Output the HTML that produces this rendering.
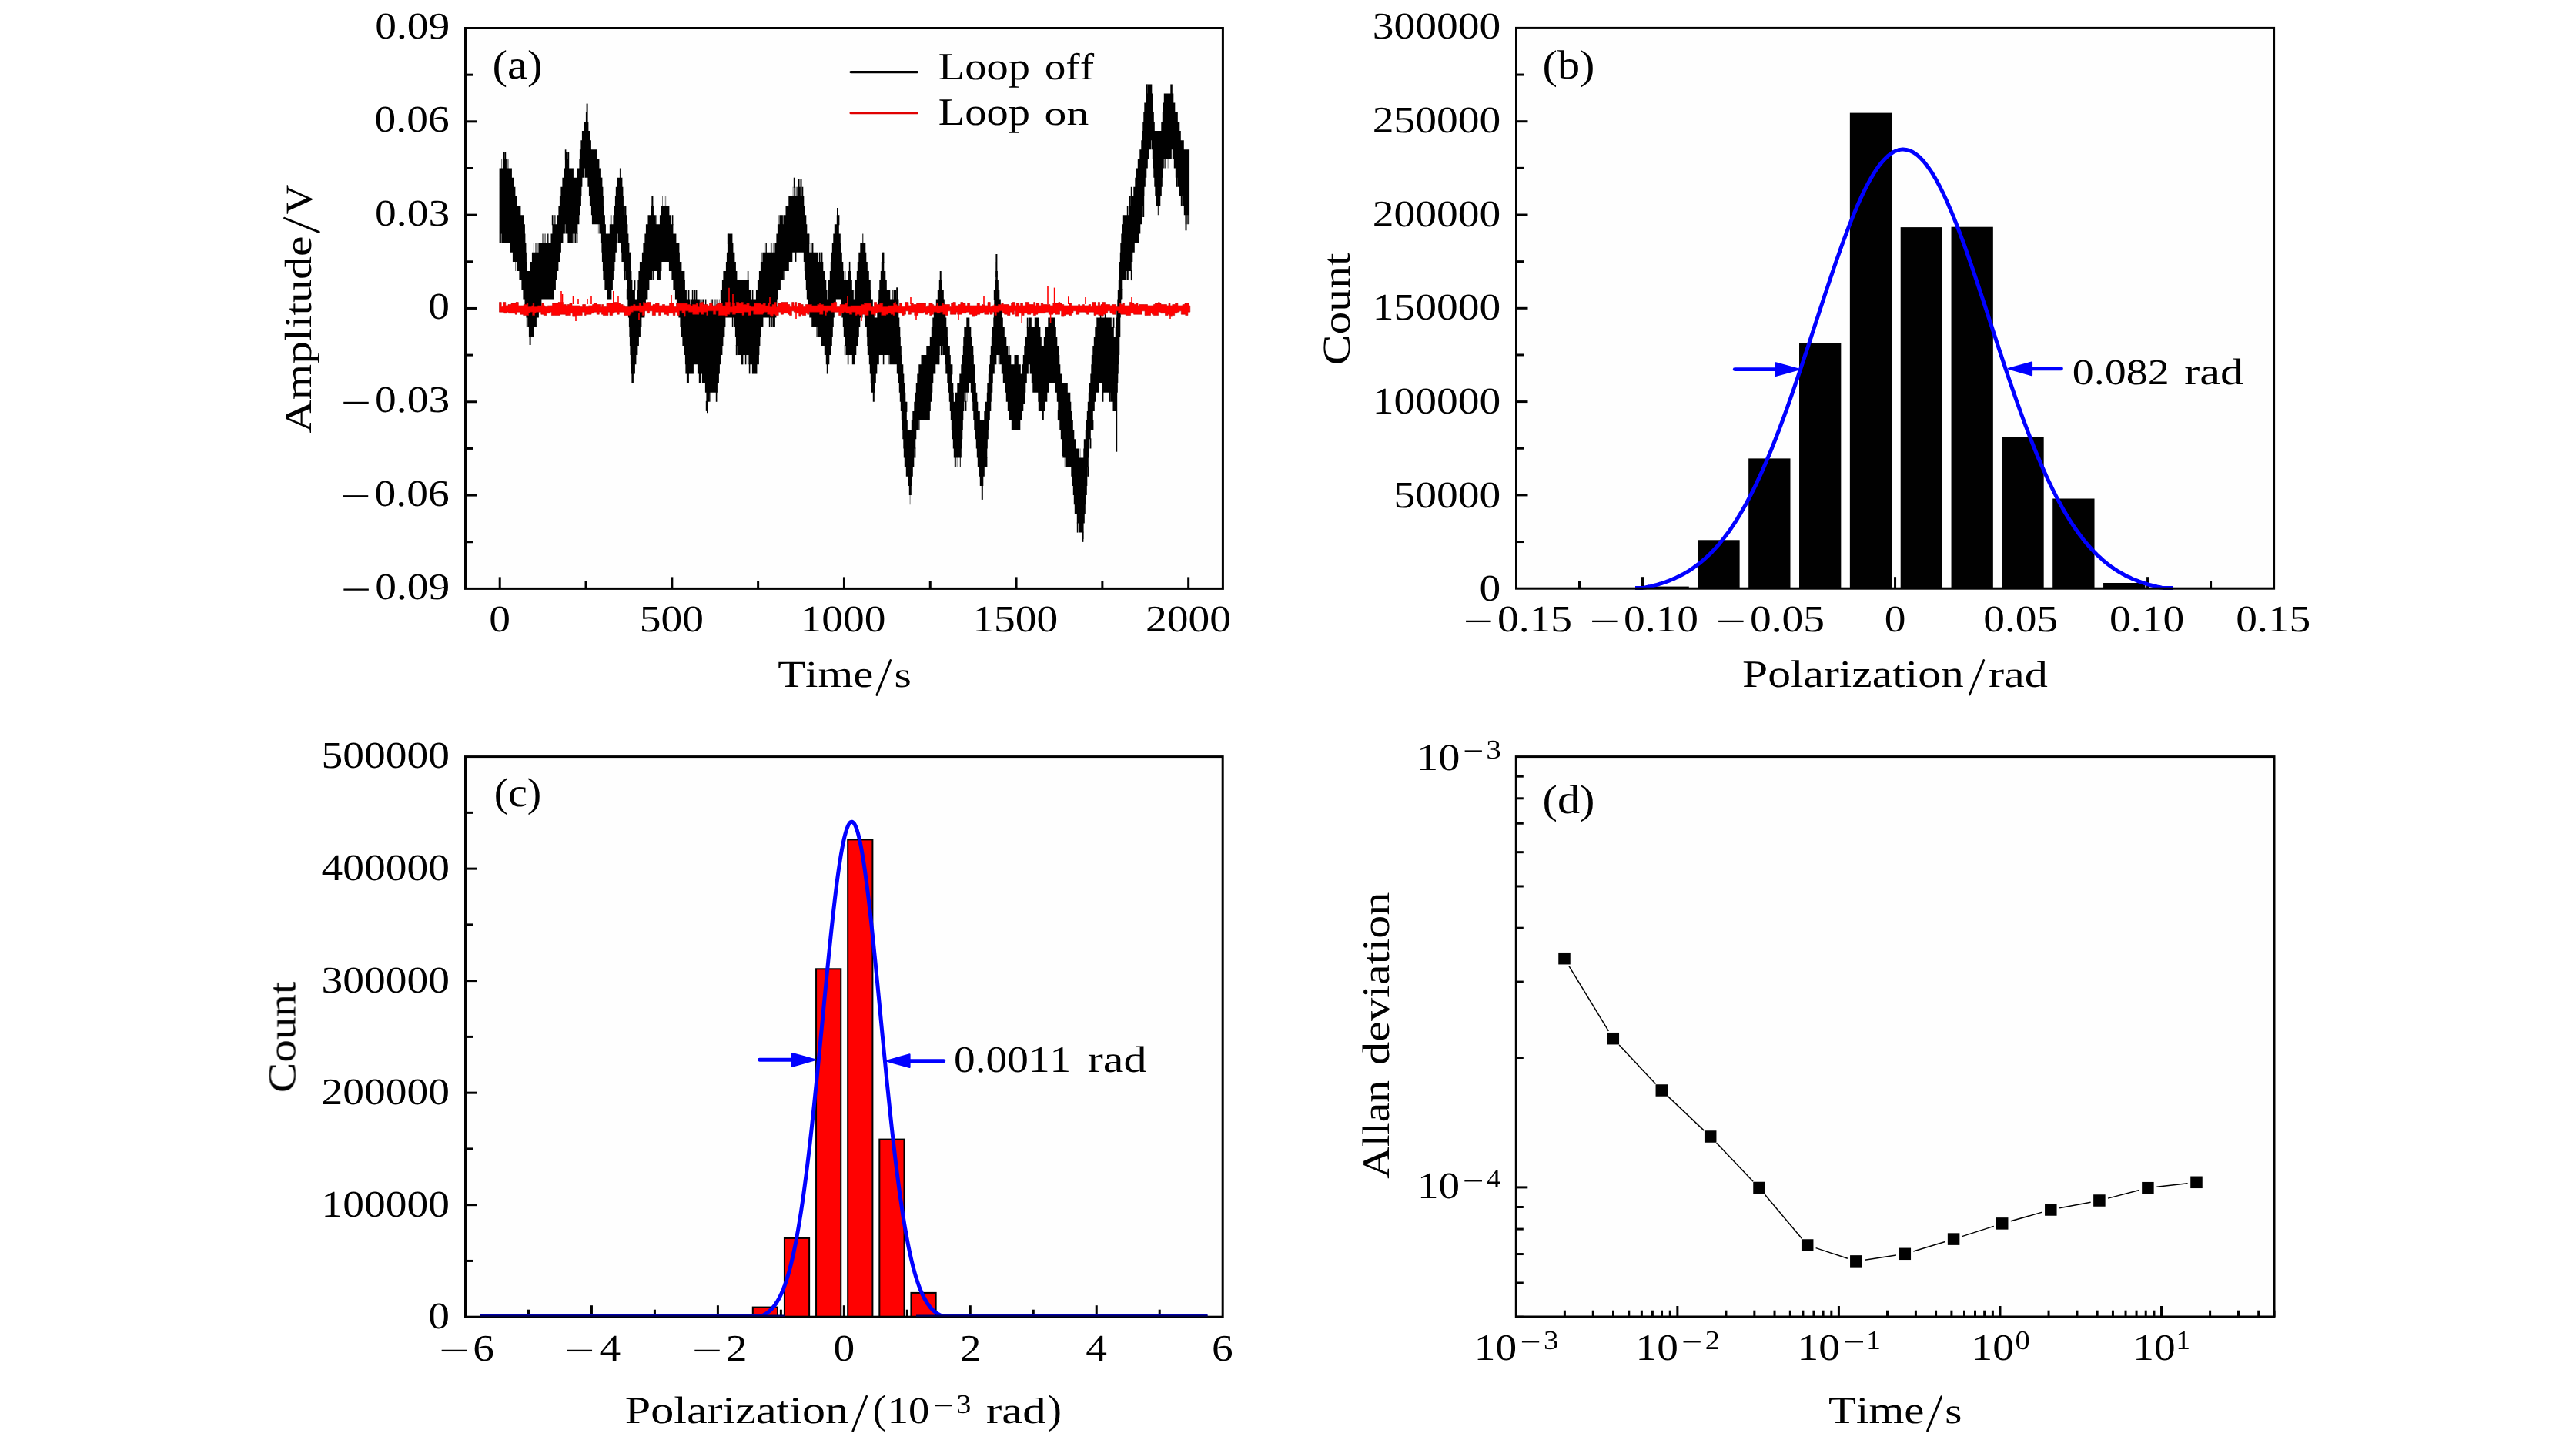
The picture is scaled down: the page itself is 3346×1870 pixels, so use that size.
<!DOCTYPE html>
<html><head><meta charset="utf-8"><style>
html,body{margin:0;padding:0;background:#fff;}
svg{display:block;}
text{text-rendering:geometricPrecision;}
text{font-family:"Liberation Serif",serif;font-kerning:none;}
</style></head><body>
<svg width="3346" height="1870" viewBox="0 0 3346 1870">
<rect width="3346" height="1870" fill="#fff"/>
<g opacity="0.999"><rect x="604.50" y="36.50" width="983.90" height="727.90" fill="#fefefe" stroke="none"/>
<rect x="1969.50" y="36.40" width="984.10" height="727.80" fill="#fefefe" stroke="none"/>
<rect x="604.50" y="982.60" width="983.70" height="727.60" fill="#fefefe" stroke="none"/>
<rect x="1969.30" y="982.60" width="984.70" height="727.40" fill="#fefefe" stroke="none"/>
<line x1="604.50" y1="643.08" x2="619.50" y2="643.08" stroke="#000" stroke-width="3" stroke-linecap="butt"/>
<line x1="604.50" y1="521.77" x2="619.50" y2="521.77" stroke="#000" stroke-width="3" stroke-linecap="butt"/>
<line x1="604.50" y1="400.45" x2="619.50" y2="400.45" stroke="#000" stroke-width="3" stroke-linecap="butt"/>
<line x1="604.50" y1="279.13" x2="619.50" y2="279.13" stroke="#000" stroke-width="3" stroke-linecap="butt"/>
<line x1="604.50" y1="157.82" x2="619.50" y2="157.82" stroke="#000" stroke-width="3" stroke-linecap="butt"/>
<line x1="604.50" y1="703.74" x2="614.00" y2="703.74" stroke="#000" stroke-width="3" stroke-linecap="butt"/>
<line x1="604.50" y1="582.43" x2="614.00" y2="582.43" stroke="#000" stroke-width="3" stroke-linecap="butt"/>
<line x1="604.50" y1="461.11" x2="614.00" y2="461.11" stroke="#000" stroke-width="3" stroke-linecap="butt"/>
<line x1="604.50" y1="339.79" x2="614.00" y2="339.79" stroke="#000" stroke-width="3" stroke-linecap="butt"/>
<line x1="604.50" y1="218.47" x2="614.00" y2="218.47" stroke="#000" stroke-width="3" stroke-linecap="butt"/>
<line x1="604.50" y1="97.16" x2="614.00" y2="97.16" stroke="#000" stroke-width="3" stroke-linecap="butt"/>
<line x1="649.22" y1="764.40" x2="649.22" y2="749.40" stroke="#000" stroke-width="3" stroke-linecap="butt"/>
<line x1="872.84" y1="764.40" x2="872.84" y2="749.40" stroke="#000" stroke-width="3" stroke-linecap="butt"/>
<line x1="1096.45" y1="764.40" x2="1096.45" y2="749.40" stroke="#000" stroke-width="3" stroke-linecap="butt"/>
<line x1="1320.06" y1="764.40" x2="1320.06" y2="749.40" stroke="#000" stroke-width="3" stroke-linecap="butt"/>
<line x1="1543.68" y1="764.40" x2="1543.68" y2="749.40" stroke="#000" stroke-width="3" stroke-linecap="butt"/>
<line x1="761.03" y1="764.40" x2="761.03" y2="754.90" stroke="#000" stroke-width="3" stroke-linecap="butt"/>
<line x1="984.64" y1="764.40" x2="984.64" y2="754.90" stroke="#000" stroke-width="3" stroke-linecap="butt"/>
<line x1="1208.26" y1="764.40" x2="1208.26" y2="754.90" stroke="#000" stroke-width="3" stroke-linecap="butt"/>
<line x1="1431.87" y1="764.40" x2="1431.87" y2="754.90" stroke="#000" stroke-width="3" stroke-linecap="butt"/>
<text transform="translate(487.15,50.12) scale(1.1350,1)" font-size="48.90">0.09</text>
<text transform="translate(486.53,171.44) scale(1.1350,1)" font-size="48.90">0.06</text>
<text transform="translate(487.04,292.75) scale(1.1350,1)" font-size="48.90">0.03</text>
<text transform="translate(556.36,414.07) scale(1.1350,1)" font-size="48.90">0</text>
<text transform="translate(487.04,535.29) scale(1.1350,1)" font-size="48.90">0.03</text>
<rect x="446.25" y="521.82" width="32.50" height="2.30" fill="#000" />
<text transform="translate(486.53,656.60) scale(1.1350,1)" font-size="48.90">0.06</text>
<rect x="445.74" y="643.13" width="32.50" height="2.30" fill="#000" />
<text transform="translate(487.15,777.92) scale(1.1350,1)" font-size="48.90">0.09</text>
<rect x="446.36" y="764.45" width="32.50" height="2.30" fill="#000" />
<text transform="translate(635.35,819.52) scale(1.1350,1)" font-size="48.90">0</text>
<text transform="translate(830.65,819.52) scale(1.1350,1)" font-size="48.90">500</text>
<text transform="translate(1039.57,819.52) scale(1.1350,1)" font-size="48.90">1000</text>
<text transform="translate(1263.18,819.52) scale(1.1350,1)" font-size="48.90">1500</text>
<text transform="translate(1488.01,819.52) scale(1.1350,1)" font-size="48.90">2000</text>
<text transform="translate(1010.14,891.70) scale(1.1972,1)" font-size="49.20" fill="#000">Time</text>
<line x1="1156.80" y1="857.50" x2="1138.80" y2="902.50" stroke="#000" stroke-width="2.8" stroke-linecap="round"/>
<text transform="translate(1161.45,892.15) scale(1.2429,1)" font-size="46.16" fill="#000">s</text>
<text transform="translate(404.20,562.48) rotate(-90) scale(1.2118,1)" font-size="49.40">Amplitude</text>
<text transform="translate(404.60,278.20) rotate(-90) scale(1.0849,1)" font-size="49.40">V</text>
<line x1="369.50" y1="283.30" x2="414.40" y2="301.40" stroke="#000" stroke-width="2.8" stroke-linecap="round"/>
<text transform="translate(639.42,101.64) scale(1.0999,1)" font-size="53.38" fill="#000">(a)</text>
<line x1="1105.00" y1="93.60" x2="1191.40" y2="93.60" stroke="#000" stroke-width="3.1" stroke-linecap="round"/>
<line x1="1105.00" y1="146.70" x2="1191.40" y2="146.70" stroke="#e00000" stroke-width="3.1" stroke-linecap="round"/>
<text transform="translate(1218.77,103.10) scale(1.1287,1)" font-size="50.00" fill="#000">Loop</text>
<text transform="translate(1356.70,103.13) scale(1.1345,1)" font-size="48.61" fill="#000">off</text>
<text transform="translate(1218.77,161.80) scale(1.1287,1)" font-size="50.00" fill="#000">Loop</text>
<text transform="translate(1356.61,161.87) scale(1.3184,1)" font-size="43.66" fill="#000">on</text>
<polygon points="648.6,218.5 651.4,218.5 651.4,206.4 651.9,206.4 651.9,218.5 652.9,218.5 652.9,206.4 656.4,206.4 656.4,218.5 656.9,218.5 656.9,206.4 657.9,206.4 657.9,218.5 658.4,218.5 658.4,206.4 659.4,206.4 659.4,218.5 659.9,218.5 659.9,206.4 660.4,206.4 660.4,218.5 664.9,218.5 664.9,230.7 667.4,230.7 667.4,242.8 669.4,242.8 669.4,254.9 671.9,254.9 671.9,267.1 676.4,267.1 676.4,279.2 680.9,279.2 680.9,291.3 681.9,291.3 681.9,303.5 682.4,303.5 682.4,315.6 683.4,315.6 683.4,327.7 683.9,327.7 683.9,339.9 684.4,339.9 684.4,352.0 688.4,352.0 688.4,339.9 690.9,339.9 690.9,327.7 692.9,327.7 692.9,315.6 693.9,315.6 693.9,327.7 695.4,327.7 695.4,315.6 695.9,315.6 695.9,327.7 696.4,327.7 696.4,315.6 696.9,315.6 696.9,327.7 697.4,327.7 697.4,315.6 698.4,315.6 698.4,327.7 699.4,327.7 699.4,315.6 704.4,315.6 704.4,303.5 704.9,303.5 704.9,315.6 705.4,315.6 705.4,303.5 705.9,303.5 705.9,315.6 706.9,315.6 706.9,303.5 707.4,303.5 707.4,315.6 708.4,315.6 708.4,303.5 708.9,303.5 708.9,315.6 710.9,315.6 710.9,303.5 711.9,303.5 711.9,315.6 712.4,315.6 712.4,303.5 712.9,303.5 712.9,315.6 714.9,315.6 714.9,303.5 715.4,303.5 715.4,315.6 715.9,315.6 715.9,303.5 717.4,303.5 717.4,291.3 720.4,291.3 720.4,279.2 720.9,279.2 720.9,291.3 721.4,291.3 721.4,279.2 721.9,279.2 721.9,291.3 723.4,291.3 723.4,279.2 725.4,279.2 725.4,267.1 726.9,267.1 726.9,254.9 728.4,254.9 728.4,242.8 730.4,242.8 730.4,230.7 732.4,230.7 732.4,218.5 733.9,218.5 733.9,206.4 738.4,206.4 738.4,218.5 744.9,218.5 744.9,230.7 745.4,230.7 745.4,218.5 745.9,218.5 745.9,230.7 749.9,230.7 749.9,218.5 752.4,218.5 752.4,206.4 752.9,206.4 752.9,194.3 754.4,194.3 754.4,182.2 755.9,182.2 755.9,170.0 758.9,170.0 758.9,157.9 760.9,157.9 760.9,145.8 762.9,145.8 762.9,157.9 764.4,157.9 764.4,170.0 766.4,170.0 766.4,182.2 767.9,182.2 767.9,194.3 775.4,194.3 775.4,206.4 778.4,206.4 778.4,218.5 779.9,218.5 779.9,230.7 781.4,230.7 781.4,242.8 782.4,242.8 782.4,254.9 783.9,254.9 783.9,267.1 784.9,267.1 784.9,279.2 785.9,279.2 785.9,291.3 786.9,291.3 786.9,303.5 793.4,303.5 793.4,291.3 796.4,291.3 796.4,279.2 797.9,279.2 797.9,267.1 798.9,267.1 798.9,254.9 800.9,254.9 800.9,242.8 801.9,242.8 801.9,230.7 804.9,230.7 804.9,218.5 805.9,218.5 805.9,230.7 808.4,230.7 808.4,242.8 809.4,242.8 809.4,254.9 809.9,254.9 809.9,267.1 811.9,267.1 811.9,279.2 814.4,279.2 814.4,291.3 815.4,291.3 815.4,303.5 816.4,303.5 816.4,315.6 817.4,315.6 817.4,327.7 818.4,327.7 818.4,339.9 819.4,339.9 819.4,352.0 820.4,352.0 820.4,364.1 821.4,364.1 821.4,376.2 824.9,376.2 824.9,388.4 827.4,388.4 827.4,376.2 828.4,376.2 828.4,364.1 829.4,364.1 829.4,352.0 830.9,352.0 830.9,339.9 833.9,339.9 833.9,327.7 835.4,327.7 835.4,315.6 837.4,315.6 837.4,303.5 838.9,303.5 838.9,291.3 840.9,291.3 840.9,279.2 841.4,279.2 841.4,291.3 841.9,291.3 841.9,279.2 845.4,279.2 845.4,267.1 846.9,267.1 846.9,254.9 847.4,254.9 847.4,267.1 848.9,267.1 848.9,279.2 849.4,279.2 849.4,267.1 849.9,267.1 849.9,279.2 851.9,279.2 851.9,291.3 852.4,291.3 852.4,279.2 852.9,279.2 852.9,291.3 856.9,291.3 856.9,279.2 858.9,279.2 858.9,267.1 860.4,267.1 860.4,254.9 860.9,254.9 860.9,267.1 863.9,267.1 863.9,254.9 864.4,254.9 864.4,267.1 865.9,267.1 865.9,254.9 866.4,254.9 866.4,267.1 869.4,267.1 869.4,279.2 871.9,279.2 871.9,291.3 874.4,291.3 874.4,303.5 878.4,303.5 878.4,315.6 880.4,315.6 880.4,327.7 882.9,327.7 882.9,339.9 885.4,339.9 885.4,352.0 888.4,352.0 888.4,364.1 889.9,364.1 889.9,376.2 891.9,376.2 891.9,388.4 896.4,388.4 896.4,400.5 896.9,400.5 896.9,388.4 908.9,388.4 908.9,400.5 909.4,400.5 909.4,388.4 910.9,388.4 910.9,400.5 911.4,400.5 911.4,388.4 911.9,388.4 911.9,400.5 912.4,400.5 912.4,388.4 914.9,388.4 914.9,400.5 915.9,400.5 915.9,388.4 917.4,388.4 917.4,400.5 922.9,400.5 922.9,388.4 923.4,388.4 923.4,400.5 924.4,400.5 924.4,388.4 925.9,388.4 925.9,400.5 926.9,400.5 926.9,388.4 928.4,388.4 928.4,400.5 928.9,400.5 928.9,388.4 929.4,388.4 929.4,400.5 929.9,400.5 929.9,388.4 930.4,388.4 930.4,400.5 931.4,400.5 931.4,388.4 931.9,388.4 931.9,400.5 933.9,400.5 933.9,388.4 934.4,388.4 934.4,400.5 935.9,400.5 935.9,388.4 936.9,388.4 936.9,376.2 937.9,376.2 937.9,364.1 939.4,364.1 939.4,352.0 942.9,352.0 942.9,339.9 943.9,339.9 943.9,327.7 944.9,327.7 944.9,315.6 945.9,315.6 945.9,303.5 951.4,303.5 951.4,315.6 952.4,315.6 952.4,327.7 954.4,327.7 954.4,339.9 955.9,339.9 955.9,352.0 957.4,352.0 957.4,364.1 972.9,364.1 972.9,376.2 975.4,376.2 975.4,388.4 981.9,388.4 981.9,376.2 983.9,376.2 983.9,364.1 985.9,364.1 985.9,352.0 987.9,352.0 987.9,339.9 989.4,339.9 989.4,327.7 989.9,327.7 989.9,339.9 990.4,339.9 990.4,327.7 993.9,327.7 993.9,315.6 994.4,315.6 994.4,327.7 994.9,327.7 994.9,315.6 995.9,315.6 995.9,327.7 1000.9,327.7 1000.9,315.6 1001.4,315.6 1001.4,327.7 1002.4,327.7 1002.4,315.6 1002.9,315.6 1002.9,327.7 1003.9,327.7 1003.9,315.6 1004.4,315.6 1004.4,327.7 1006.4,327.7 1006.4,315.6 1008.4,315.6 1008.4,303.5 1009.9,303.5 1009.9,291.3 1010.9,291.3 1010.9,279.2 1011.4,279.2 1011.4,291.3 1012.4,291.3 1012.4,279.2 1014.4,279.2 1014.4,291.3 1014.9,291.3 1014.9,279.2 1016.9,279.2 1016.9,291.3 1017.4,291.3 1017.4,279.2 1019.9,279.2 1019.9,267.1 1020.4,267.1 1020.4,279.2 1020.9,279.2 1020.9,267.1 1024.3,267.1 1024.3,254.9 1029.8,254.9 1029.8,242.8 1030.3,242.8 1030.3,254.9 1031.3,254.9 1031.3,242.8 1032.3,242.8 1032.3,254.9 1032.8,254.9 1032.8,242.8 1033.3,242.8 1033.3,254.9 1034.3,254.9 1034.3,242.8 1034.8,242.8 1034.8,254.9 1035.3,254.9 1035.3,242.8 1037.3,242.8 1037.3,254.9 1037.8,254.9 1037.8,242.8 1039.8,242.8 1039.8,254.9 1040.3,254.9 1040.3,242.8 1041.3,242.8 1041.3,254.9 1041.8,254.9 1041.8,242.8 1043.3,242.8 1043.3,254.9 1044.3,254.9 1044.3,267.1 1045.8,267.1 1045.8,279.2 1047.3,279.2 1047.3,291.3 1048.3,291.3 1048.3,303.5 1050.3,303.5 1050.3,315.6 1051.3,315.6 1051.3,327.7 1062.8,327.7 1062.8,339.9 1069.3,339.9 1069.3,352.0 1071.3,352.0 1071.3,364.1 1073.3,364.1 1073.3,376.2 1074.3,376.2 1074.3,388.4 1074.8,388.4 1074.8,376.2 1075.8,376.2 1075.8,364.1 1077.8,364.1 1077.8,352.0 1078.8,352.0 1078.8,339.9 1079.8,339.9 1079.8,327.7 1080.8,327.7 1080.8,315.6 1082.3,315.6 1082.3,303.5 1083.8,303.5 1083.8,291.3 1086.8,291.3 1086.8,279.2 1087.8,279.2 1087.8,291.3 1089.8,291.3 1089.8,303.5 1091.8,303.5 1091.8,315.6 1092.8,315.6 1092.8,327.7 1093.8,327.7 1093.8,339.9 1095.3,339.9 1095.3,352.0 1096.3,352.0 1096.3,364.1 1097.8,364.1 1097.8,352.0 1098.3,352.0 1098.3,364.1 1101.3,364.1 1101.3,352.0 1105.8,352.0 1105.8,364.1 1106.8,364.1 1106.8,376.2 1108.8,376.2 1108.8,388.4 1109.8,388.4 1109.8,376.2 1110.8,376.2 1110.8,364.1 1112.8,364.1 1112.8,352.0 1113.8,352.0 1113.8,339.9 1115.3,339.9 1115.3,327.7 1117.3,327.7 1117.3,315.6 1120.3,315.6 1120.3,303.5 1121.3,303.5 1121.3,315.6 1124.3,315.6 1124.3,327.7 1125.3,327.7 1125.3,339.9 1126.8,339.9 1126.8,352.0 1128.8,352.0 1128.8,364.1 1130.8,364.1 1130.8,376.2 1131.8,376.2 1131.8,388.4 1133.8,388.4 1133.8,400.5 1135.8,400.5 1135.8,412.6 1139.3,412.6 1139.3,400.5 1140.3,400.5 1140.3,388.4 1141.3,388.4 1141.3,376.2 1142.3,376.2 1142.3,364.1 1143.8,364.1 1143.8,352.0 1144.8,352.0 1144.8,339.9 1145.8,339.9 1145.8,327.7 1147.3,327.7 1147.3,339.9 1148.3,339.9 1148.3,352.0 1150.3,352.0 1150.3,364.1 1151.8,364.1 1151.8,376.2 1156.3,376.2 1156.3,388.4 1159.3,388.4 1159.3,376.2 1160.3,376.2 1160.3,388.4 1160.8,388.4 1160.8,376.2 1164.3,376.2 1164.3,388.4 1165.8,388.4 1165.8,400.5 1167.3,400.5 1167.3,412.6 1168.3,412.6 1168.3,424.8 1169.3,424.8 1169.3,436.9 1169.8,436.9 1169.8,449.0 1170.8,449.0 1170.8,461.1 1171.8,461.1 1171.8,473.3 1173.3,473.3 1173.3,485.4 1174.3,485.4 1174.3,497.5 1175.3,497.5 1175.3,509.7 1176.3,509.7 1176.3,521.8 1177.3,521.8 1177.3,533.9 1177.8,533.9 1177.8,546.1 1178.8,546.1 1178.8,558.2 1183.8,558.2 1183.8,546.1 1185.3,546.1 1185.3,533.9 1187.3,533.9 1187.3,521.8 1188.8,521.8 1188.8,509.7 1189.8,509.7 1189.8,497.5 1191.3,497.5 1191.3,485.4 1193.3,485.4 1193.3,473.3 1196.3,473.3 1196.3,461.1 1196.8,461.1 1196.8,473.3 1197.8,473.3 1197.8,461.1 1203.3,461.1 1203.3,449.0 1207.8,449.0 1207.8,436.9 1209.8,436.9 1209.8,424.8 1211.3,424.8 1211.3,412.6 1212.8,412.6 1212.8,400.5 1215.8,400.5 1215.8,388.4 1217.8,388.4 1217.8,376.2 1219.8,376.2 1219.8,364.1 1223.8,364.1 1223.8,376.2 1225.8,376.2 1225.8,388.4 1226.8,388.4 1226.8,400.5 1228.3,400.5 1228.3,412.6 1229.3,412.6 1229.3,424.8 1230.8,424.8 1230.8,436.9 1231.8,436.9 1231.8,449.0 1233.8,449.0 1233.8,461.1 1234.8,461.1 1234.8,473.3 1236.3,473.3 1236.3,485.4 1236.8,485.4 1236.8,497.5 1238.3,497.5 1238.3,509.7 1238.8,509.7 1238.8,521.8 1240.8,521.8 1240.8,509.7 1243.3,509.7 1243.3,497.5 1246.3,497.5 1246.3,485.4 1248.3,485.4 1248.3,473.3 1249.3,473.3 1249.3,461.1 1250.8,461.1 1250.8,449.0 1251.3,449.0 1251.3,436.9 1252.3,436.9 1252.3,424.8 1255.3,424.8 1255.3,412.6 1258.3,412.6 1258.3,424.8 1258.8,424.8 1258.8,412.6 1259.3,412.6 1259.3,424.8 1261.3,424.8 1261.3,436.9 1262.3,436.9 1262.3,449.0 1264.3,449.0 1264.3,461.1 1264.8,461.1 1264.8,473.3 1266.3,473.3 1266.3,485.4 1266.8,485.4 1266.8,497.5 1267.8,497.5 1267.8,509.7 1269.3,509.7 1269.3,521.8 1270.3,521.8 1270.3,533.9 1272.8,533.9 1272.8,546.1 1275.3,546.1 1275.3,558.2 1275.8,558.2 1275.8,546.1 1278.3,546.1 1278.3,533.9 1279.3,533.9 1279.3,521.8 1281.8,521.8 1281.8,509.7 1282.3,509.7 1282.3,497.5 1283.8,497.5 1283.8,485.4 1284.8,485.4 1284.8,473.3 1285.8,473.3 1285.8,461.1 1286.8,461.1 1286.8,449.0 1287.8,449.0 1287.8,436.9 1288.8,436.9 1288.8,424.8 1290.3,424.8 1290.3,412.6 1290.8,412.6 1290.8,400.5 1291.3,400.5 1291.3,388.4 1292.3,388.4 1292.3,376.2 1292.8,376.2 1292.8,364.1 1293.3,364.1 1293.3,352.0 1293.8,352.0 1293.8,339.9 1294.8,339.9 1294.8,352.0 1295.8,352.0 1295.8,364.1 1296.8,364.1 1296.8,376.2 1298.3,376.2 1298.3,388.4 1299.8,388.4 1299.8,400.5 1301.8,400.5 1301.8,412.6 1302.8,412.6 1302.8,424.8 1304.8,424.8 1304.8,436.9 1307.3,436.9 1307.3,449.0 1309.3,449.0 1309.3,461.1 1313.3,461.1 1313.3,473.3 1317.3,473.3 1317.3,461.1 1317.8,461.1 1317.8,473.3 1318.3,473.3 1318.3,461.1 1322.8,461.1 1322.8,473.3 1325.8,473.3 1325.8,485.4 1327.3,485.4 1327.3,473.3 1328.8,473.3 1328.8,461.1 1330.3,461.1 1330.3,449.0 1331.8,449.0 1331.8,436.9 1333.8,436.9 1333.8,424.8 1335.8,424.8 1335.8,412.6 1339.8,412.6 1339.8,424.8 1343.8,424.8 1343.8,412.6 1349.3,412.6 1349.3,424.8 1350.3,424.8 1350.3,436.9 1352.8,436.9 1352.8,449.0 1355.8,449.0 1355.8,436.9 1357.3,436.9 1357.3,424.8 1361.3,424.8 1361.3,412.6 1370.3,412.6 1370.3,424.8 1371.8,424.8 1371.8,436.9 1373.3,436.9 1373.3,449.0 1375.3,449.0 1375.3,461.1 1376.3,461.1 1376.3,473.3 1377.3,473.3 1377.3,485.4 1379.3,485.4 1379.3,497.5 1386.8,497.5 1386.8,509.7 1390.3,509.7 1390.3,521.8 1391.3,521.8 1391.3,533.9 1392.8,533.9 1392.8,546.1 1393.8,546.1 1393.8,558.2 1395.3,558.2 1395.3,570.3 1397.3,570.3 1397.3,582.5 1401.8,582.5 1401.8,594.6 1402.8,594.6 1402.8,582.5 1403.3,582.5 1403.3,594.6 1407.3,594.6 1407.3,582.5 1407.8,582.5 1407.8,570.3 1409.8,570.3 1409.8,558.2 1410.8,558.2 1410.8,546.1 1411.8,546.1 1411.8,533.9 1412.8,533.9 1412.8,521.8 1413.8,521.8 1413.8,509.7 1414.8,509.7 1414.8,497.5 1416.3,497.5 1416.3,485.4 1417.3,485.4 1417.3,473.3 1417.8,473.3 1417.8,461.1 1419.3,461.1 1419.3,449.0 1420.8,449.0 1420.8,436.9 1422.3,436.9 1422.3,424.8 1424.3,424.8 1424.3,412.6 1443.8,412.6 1443.8,424.8 1444.3,424.8 1444.3,412.6 1444.8,412.6 1444.8,424.8 1446.8,424.8 1446.8,436.9 1448.8,436.9 1448.8,424.8 1449.3,424.8 1449.3,412.6 1450.3,412.6 1450.3,400.5 1451.3,400.5 1451.3,388.4 1451.8,388.4 1451.8,376.2 1452.8,376.2 1452.8,364.1 1453.3,364.1 1453.3,352.0 1453.8,352.0 1453.8,339.9 1454.8,339.9 1454.8,327.7 1455.3,327.7 1455.3,315.6 1456.3,315.6 1456.3,303.5 1457.3,303.5 1457.3,291.3 1458.8,291.3 1458.8,279.2 1466.8,279.2 1466.8,267.1 1468.3,267.1 1468.3,254.9 1472.3,254.9 1472.3,242.8 1474.3,242.8 1474.3,230.7 1475.8,230.7 1475.8,218.5 1477.8,218.5 1477.8,206.4 1480.3,206.4 1480.3,194.3 1482.3,194.3 1482.3,182.2 1483.3,182.2 1483.3,170.0 1484.3,170.0 1484.3,157.9 1485.3,157.9 1485.3,145.8 1486.3,145.8 1486.3,133.6 1488.3,133.6 1488.3,121.5 1490.3,121.5 1490.3,109.4 1496.3,109.4 1496.3,121.5 1497.3,121.5 1497.3,133.6 1497.8,133.6 1497.8,145.8 1498.8,145.8 1498.8,157.9 1499.8,157.9 1499.8,170.0 1508.3,170.0 1508.3,157.9 1509.8,157.9 1509.8,145.8 1510.8,145.8 1510.8,133.6 1511.8,133.6 1511.8,121.5 1520.3,121.5 1520.3,109.4 1522.8,109.4 1522.8,121.5 1524.3,121.5 1524.3,133.6 1526.3,133.6 1526.3,145.8 1529.8,145.8 1529.8,157.9 1532.3,157.9 1532.3,170.0 1533.8,170.0 1533.8,182.2 1536.3,182.2 1536.3,194.3 1536.8,194.3 1536.8,182.2 1537.8,182.2 1537.8,194.3 1545.1,194.3 1545.1,291.3 1544.8,291.3 1544.8,279.2 1543.8,279.2 1543.8,291.3 1542.3,291.3 1542.3,279.2 1541.8,279.2 1541.8,291.3 1541.3,291.3 1541.3,279.2 1540.8,279.2 1540.8,291.3 1539.8,291.3 1539.8,279.2 1537.8,279.2 1537.8,267.1 1535.3,267.1 1535.3,254.9 1531.3,254.9 1531.3,242.8 1529.3,242.8 1529.3,230.7 1526.8,230.7 1526.8,218.5 1524.8,218.5 1524.8,206.4 1522.8,206.4 1522.8,194.3 1521.8,194.3 1521.8,206.4 1517.3,206.4 1517.3,218.5 1516.8,218.5 1516.8,206.4 1514.3,206.4 1514.3,218.5 1513.3,218.5 1513.3,206.4 1512.8,206.4 1512.8,218.5 1512.3,218.5 1512.3,206.4 1511.8,206.4 1511.8,218.5 1510.8,218.5 1510.8,230.7 1509.8,230.7 1509.8,242.8 1508.8,242.8 1508.8,254.9 1507.3,254.9 1507.3,267.1 1504.8,267.1 1504.8,279.2 1503.8,279.2 1503.8,267.1 1501.8,267.1 1501.8,254.9 1500.3,254.9 1500.3,242.8 1499.3,242.8 1499.3,230.7 1498.3,230.7 1498.3,218.5 1497.3,218.5 1497.3,206.4 1496.8,206.4 1496.8,194.3 1495.8,194.3 1495.8,182.2 1495.3,182.2 1495.3,194.3 1492.3,194.3 1492.3,206.4 1490.8,206.4 1490.8,218.5 1489.3,218.5 1489.3,230.7 1487.8,230.7 1487.8,242.8 1486.3,242.8 1486.3,254.9 1485.3,254.9 1485.3,267.1 1483.8,267.1 1483.8,279.2 1483.3,279.2 1483.3,291.3 1481.3,291.3 1481.3,303.5 1479.3,303.5 1479.3,315.6 1473.8,315.6 1473.8,327.7 1471.3,327.7 1471.3,339.9 1469.8,339.9 1469.8,352.0 1465.8,352.0 1465.8,364.1 1463.8,364.1 1463.8,352.0 1463.3,352.0 1463.3,364.1 1458.3,364.1 1458.3,376.2 1457.3,376.2 1457.3,388.4 1456.3,388.4 1456.3,400.5 1455.8,400.5 1455.8,412.6 1455.3,412.6 1455.3,436.9 1454.3,436.9 1454.3,461.1 1453.8,461.1 1453.8,473.3 1452.8,473.3 1452.8,485.4 1452.3,485.4 1452.3,497.5 1451.8,497.5 1451.8,509.7 1450.3,509.7 1450.3,521.8 1449.3,521.8 1449.3,533.9 1445.8,533.9 1445.8,521.8 1445.3,521.8 1445.3,533.9 1444.3,533.9 1444.3,521.8 1442.3,521.8 1442.3,509.7 1431.8,509.7 1431.8,497.5 1427.3,497.5 1427.3,509.7 1423.3,509.7 1423.3,521.8 1421.8,521.8 1421.8,533.9 1419.8,533.9 1419.8,546.1 1418.8,546.1 1418.8,558.2 1416.8,558.2 1416.8,570.3 1415.3,570.3 1415.3,582.5 1414.8,582.5 1414.8,594.6 1413.8,594.6 1413.8,606.7 1412.8,606.7 1412.8,618.8 1412.3,618.8 1412.3,631.0 1411.8,631.0 1411.8,643.1 1410.8,643.1 1410.8,655.2 1409.8,655.2 1409.8,667.4 1408.8,667.4 1408.8,679.5 1407.3,679.5 1407.3,691.6 1406.3,691.6 1406.3,703.8 1405.3,703.8 1405.3,691.6 1401.3,691.6 1401.3,679.5 1398.8,679.5 1398.8,667.4 1395.8,667.4 1395.8,655.2 1394.8,655.2 1394.8,643.1 1393.8,643.1 1393.8,631.0 1392.3,631.0 1392.3,618.8 1391.3,618.8 1391.3,606.7 1388.8,606.7 1388.8,618.8 1388.3,618.8 1388.3,606.7 1383.8,606.7 1383.8,594.6 1383.3,594.6 1383.3,606.7 1382.8,606.7 1382.8,594.6 1380.3,594.6 1380.3,582.5 1379.3,582.5 1379.3,570.3 1377.8,570.3 1377.8,558.2 1376.3,558.2 1376.3,546.1 1375.3,546.1 1375.3,533.9 1374.3,533.9 1374.3,521.8 1372.8,521.8 1372.8,509.7 1370.3,509.7 1370.3,497.5 1362.8,497.5 1362.8,509.7 1360.3,509.7 1360.3,521.8 1357.8,521.8 1357.8,533.9 1355.8,533.9 1355.8,546.1 1353.8,546.1 1353.8,533.9 1349.8,533.9 1349.8,521.8 1348.3,521.8 1348.3,509.7 1341.3,509.7 1341.3,497.5 1339.8,497.5 1339.8,485.4 1337.8,485.4 1337.8,473.3 1335.8,473.3 1335.8,485.4 1333.8,485.4 1333.8,497.5 1332.3,497.5 1332.3,509.7 1330.8,509.7 1330.8,521.8 1329.3,521.8 1329.3,533.9 1327.8,533.9 1327.8,546.1 1325.3,546.1 1325.3,558.2 1313.8,558.2 1313.8,546.1 1310.8,546.1 1310.8,533.9 1308.8,533.9 1308.8,521.8 1306.8,521.8 1306.8,509.7 1305.3,509.7 1305.3,497.5 1302.8,497.5 1302.8,485.4 1300.8,485.4 1300.8,473.3 1298.3,473.3 1298.3,461.1 1297.3,461.1 1297.3,473.3 1296.8,473.3 1296.8,461.1 1293.3,461.1 1293.3,473.3 1291.8,473.3 1291.8,485.4 1289.8,485.4 1289.8,497.5 1289.3,497.5 1289.3,509.7 1287.8,509.7 1287.8,521.8 1287.3,521.8 1287.3,533.9 1285.8,533.9 1285.8,546.1 1284.8,546.1 1284.8,558.2 1283.8,558.2 1283.8,570.3 1282.8,570.3 1282.8,582.5 1282.3,582.5 1282.3,594.6 1281.3,594.6 1281.3,606.7 1278.8,606.7 1278.8,618.8 1277.3,618.8 1277.3,631.0 1275.8,631.0 1275.8,643.1 1275.3,643.1 1275.3,631.0 1272.8,631.0 1272.8,618.8 1271.3,618.8 1271.3,606.7 1269.8,606.7 1269.8,594.6 1268.8,594.6 1268.8,582.5 1267.8,582.5 1267.8,570.3 1266.8,570.3 1266.8,558.2 1265.3,558.2 1265.3,546.1 1264.3,546.1 1264.3,533.9 1263.3,533.9 1263.3,521.8 1262.3,521.8 1262.3,509.7 1260.8,509.7 1260.8,497.5 1258.3,497.5 1258.3,509.7 1256.3,509.7 1256.3,521.8 1255.8,521.8 1255.8,509.7 1254.8,509.7 1254.8,521.8 1254.3,521.8 1254.3,509.7 1253.8,509.7 1253.8,521.8 1253.3,521.8 1253.3,509.7 1252.8,509.7 1252.8,521.8 1252.3,521.8 1252.3,533.9 1251.3,533.9 1251.3,546.1 1250.8,546.1 1250.8,558.2 1250.3,558.2 1250.3,570.3 1249.3,570.3 1249.3,582.5 1248.8,582.5 1248.8,594.6 1247.8,594.6 1247.8,606.7 1246.8,606.7 1246.8,594.6 1243.3,594.6 1243.3,606.7 1242.8,606.7 1242.8,594.6 1241.8,594.6 1241.8,606.7 1240.8,606.7 1240.8,594.6 1240.3,594.6 1240.3,606.7 1239.8,606.7 1239.8,594.6 1238.8,594.6 1238.8,582.5 1237.8,582.5 1237.8,570.3 1236.8,570.3 1236.8,558.2 1235.8,558.2 1235.8,546.1 1234.8,546.1 1234.8,533.9 1233.8,533.9 1233.8,521.8 1232.8,521.8 1232.8,509.7 1231.3,509.7 1231.3,497.5 1230.3,497.5 1230.3,485.4 1228.3,485.4 1228.3,473.3 1227.3,473.3 1227.3,461.1 1224.3,461.1 1224.3,449.0 1220.8,449.0 1220.8,461.1 1218.3,461.1 1218.3,473.3 1215.3,473.3 1215.3,485.4 1212.3,485.4 1212.3,497.5 1211.3,497.5 1211.3,509.7 1210.3,509.7 1210.3,521.8 1208.8,521.8 1208.8,533.9 1207.8,533.9 1207.8,546.1 1194.8,546.1 1194.8,558.2 1194.3,558.2 1194.3,546.1 1193.8,546.1 1193.8,558.2 1190.3,558.2 1190.3,570.3 1189.3,570.3 1189.3,582.5 1187.8,582.5 1187.8,594.6 1187.3,594.6 1187.3,606.7 1185.8,606.7 1185.8,618.8 1184.3,618.8 1184.3,631.0 1183.8,631.0 1183.8,643.1 1182.3,643.1 1182.3,655.2 1181.8,655.2 1181.8,643.1 1180.8,643.1 1180.8,631.0 1179.3,631.0 1179.3,618.8 1176.8,618.8 1176.8,606.7 1174.8,606.7 1174.8,594.6 1173.8,594.6 1173.8,582.5 1173.3,582.5 1173.3,570.3 1172.3,570.3 1172.3,558.2 1171.3,558.2 1171.3,546.1 1170.8,546.1 1170.8,533.9 1169.8,533.9 1169.8,521.8 1168.8,521.8 1168.8,509.7 1167.8,509.7 1167.8,497.5 1166.8,497.5 1166.8,485.4 1164.8,485.4 1164.8,473.3 1155.3,473.3 1155.3,461.1 1154.8,461.1 1154.8,473.3 1154.3,473.3 1154.3,461.1 1141.8,461.1 1141.8,473.3 1139.3,473.3 1139.3,485.4 1137.8,485.4 1137.8,497.5 1136.8,497.5 1136.8,509.7 1135.8,509.7 1135.8,521.8 1133.8,521.8 1133.8,509.7 1131.8,509.7 1131.8,497.5 1130.8,497.5 1130.8,485.4 1129.8,485.4 1129.8,473.3 1128.8,473.3 1128.8,461.1 1127.8,461.1 1127.8,449.0 1126.3,449.0 1126.3,436.9 1125.8,436.9 1125.8,424.8 1123.8,424.8 1123.8,412.6 1122.8,412.6 1122.8,400.5 1120.8,400.5 1120.8,412.6 1120.3,412.6 1120.3,400.5 1119.8,400.5 1119.8,412.6 1119.3,412.6 1119.3,400.5 1118.8,400.5 1118.8,412.6 1117.3,412.6 1117.3,424.8 1115.8,424.8 1115.8,436.9 1114.3,436.9 1114.3,449.0 1112.3,449.0 1112.3,461.1 1110.3,461.1 1110.3,473.3 1106.8,473.3 1106.8,461.1 1098.8,461.1 1098.8,449.0 1097.3,449.0 1097.3,436.9 1095.8,436.9 1095.8,424.8 1094.8,424.8 1094.8,412.6 1093.3,412.6 1093.3,400.5 1092.3,400.5 1092.3,388.4 1085.8,388.4 1085.8,400.5 1083.8,400.5 1083.8,412.6 1082.8,412.6 1082.8,424.8 1081.8,424.8 1081.8,436.9 1080.8,436.9 1080.8,449.0 1079.3,449.0 1079.3,461.1 1077.3,461.1 1077.3,473.3 1075.8,473.3 1075.8,485.4 1073.8,485.4 1073.8,473.3 1072.8,473.3 1072.8,461.1 1070.8,461.1 1070.8,449.0 1066.8,449.0 1066.8,436.9 1061.3,436.9 1061.3,424.8 1060.8,424.8 1060.8,436.9 1060.3,436.9 1060.3,424.8 1055.8,424.8 1055.8,412.6 1055.3,412.6 1055.3,424.8 1054.3,424.8 1054.3,412.6 1051.3,412.6 1051.3,400.5 1049.8,400.5 1049.8,388.4 1047.8,388.4 1047.8,376.2 1046.8,376.2 1046.8,364.1 1045.8,364.1 1045.8,352.0 1044.8,352.0 1044.8,339.9 1043.8,339.9 1043.8,327.7 1029.3,327.7 1029.3,339.9 1024.8,339.9 1024.8,352.0 1019.4,352.0 1019.4,364.1 1018.4,364.1 1018.4,352.0 1017.9,352.0 1017.9,364.1 1013.9,364.1 1013.9,376.2 1010.4,376.2 1010.4,388.4 1009.4,388.4 1009.4,400.5 1008.4,400.5 1008.4,412.6 1006.9,412.6 1006.9,424.8 1003.4,424.8 1003.4,412.6 1002.9,412.6 1002.9,424.8 1001.9,424.8 1001.9,412.6 991.4,412.6 991.4,424.8 988.4,424.8 988.4,436.9 987.4,436.9 987.4,449.0 986.4,449.0 986.4,461.1 985.9,461.1 985.9,473.3 983.4,473.3 983.4,485.4 976.9,485.4 976.9,473.3 972.4,473.3 972.4,461.1 971.9,461.1 971.9,473.3 970.9,473.3 970.9,461.1 957.4,461.1 957.4,449.0 955.9,449.0 955.9,436.9 954.9,436.9 954.9,424.8 953.4,424.8 953.4,412.6 942.4,412.6 942.4,424.8 941.4,424.8 941.4,436.9 939.4,436.9 939.4,449.0 938.4,449.0 938.4,461.1 936.4,461.1 936.4,473.3 934.9,473.3 934.9,485.4 933.9,485.4 933.9,497.5 931.9,497.5 931.9,509.7 922.9,509.7 922.9,521.8 922.4,521.8 922.4,509.7 921.9,509.7 921.9,521.8 917.4,521.8 917.4,509.7 915.9,509.7 915.9,497.5 911.9,497.5 911.9,485.4 910.9,485.4 910.9,497.5 910.4,497.5 910.4,485.4 906.9,485.4 906.9,473.3 906.4,473.3 906.4,485.4 905.9,485.4 905.9,473.3 901.9,473.3 901.9,485.4 901.4,485.4 901.4,473.3 900.9,473.3 900.9,485.4 894.9,485.4 894.9,497.5 891.9,497.5 891.9,485.4 890.4,485.4 890.4,473.3 889.9,473.3 889.9,461.1 888.4,461.1 888.4,449.0 886.4,449.0 886.4,436.9 884.9,436.9 884.9,424.8 883.4,424.8 883.4,412.6 881.4,412.6 881.4,400.5 878.9,400.5 878.9,388.4 876.9,388.4 876.9,376.2 874.4,376.2 874.4,364.1 872.4,364.1 872.4,352.0 871.9,352.0 871.9,364.1 871.4,364.1 871.4,352.0 868.9,352.0 868.9,339.9 859.4,339.9 859.4,352.0 857.9,352.0 857.9,364.1 853.9,364.1 853.9,352.0 848.9,352.0 848.9,364.1 847.9,364.1 847.9,352.0 847.4,352.0 847.4,364.1 843.4,364.1 843.4,376.2 841.4,376.2 841.4,388.4 838.9,388.4 838.9,400.5 837.4,400.5 837.4,412.6 836.9,412.6 836.9,400.5 836.4,400.5 836.4,412.6 833.4,412.6 833.4,424.8 831.9,424.8 831.9,436.9 829.9,436.9 829.9,449.0 828.4,449.0 828.4,461.1 826.4,461.1 826.4,473.3 824.9,473.3 824.9,485.4 822.9,485.4 822.9,497.5 820.4,497.5 820.4,485.4 819.9,485.4 819.9,473.3 818.9,473.3 818.9,461.1 818.4,461.1 818.4,449.0 817.9,449.0 817.9,436.9 817.4,436.9 817.4,424.8 816.9,424.8 816.9,412.6 815.9,412.6 815.9,400.5 815.4,400.5 815.4,388.4 814.9,388.4 814.9,376.2 814.4,376.2 814.4,364.1 812.4,364.1 812.4,352.0 809.9,352.0 809.9,339.9 807.4,339.9 807.4,327.7 806.9,327.7 806.9,315.6 802.9,315.6 802.9,303.5 802.4,303.5 802.4,315.6 800.9,315.6 800.9,327.7 799.4,327.7 799.4,339.9 798.4,339.9 798.4,352.0 796.9,352.0 796.9,364.1 795.9,364.1 795.9,376.2 794.4,376.2 794.4,388.4 793.9,388.4 793.9,376.2 793.4,376.2 793.4,388.4 788.9,388.4 788.9,376.2 785.4,376.2 785.4,364.1 783.4,364.1 783.4,352.0 782.9,352.0 782.9,339.9 781.9,339.9 781.9,327.7 781.4,327.7 781.4,315.6 780.9,315.6 780.9,303.5 780.4,303.5 780.4,315.6 779.9,315.6 779.9,303.5 778.4,303.5 778.4,291.3 777.4,291.3 777.4,303.5 776.9,303.5 776.9,291.3 771.9,291.3 771.9,279.2 771.4,279.2 771.4,291.3 768.9,291.3 768.9,279.2 767.9,279.2 767.9,267.1 765.9,267.1 765.9,254.9 764.9,254.9 764.9,242.8 763.4,242.8 763.4,230.7 759.9,230.7 759.9,218.5 759.4,218.5 759.4,230.7 756.4,230.7 756.4,242.8 755.4,242.8 755.4,254.9 754.9,254.9 754.9,267.1 753.9,267.1 753.9,279.2 752.4,279.2 752.4,291.3 750.4,291.3 750.4,303.5 748.4,303.5 748.4,315.6 746.9,315.6 746.9,303.5 746.4,303.5 746.4,315.6 745.4,315.6 745.4,303.5 744.9,303.5 744.9,315.6 744.4,315.6 744.4,303.5 743.9,303.5 743.9,315.6 737.4,315.6 737.4,303.5 734.4,303.5 734.4,291.3 733.9,291.3 733.9,303.5 731.4,303.5 731.4,315.6 728.9,315.6 728.9,327.7 727.9,327.7 727.9,339.9 725.4,339.9 725.4,352.0 723.9,352.0 723.9,364.1 721.9,364.1 721.9,376.2 719.9,376.2 719.9,388.4 703.4,388.4 703.4,400.5 699.9,400.5 699.9,412.6 696.9,412.6 696.9,424.8 693.4,424.8 693.4,436.9 686.9,436.9 686.9,424.8 685.4,424.8 685.4,412.6 683.4,412.6 683.4,400.5 681.9,400.5 681.9,388.4 681.4,388.4 681.4,400.5 680.9,400.5 680.9,388.4 679.4,388.4 679.4,376.2 677.4,376.2 677.4,364.1 674.4,364.1 674.4,352.0 670.9,352.0 670.9,339.9 669.9,339.9 669.9,352.0 669.4,352.0 669.4,339.9 665.9,339.9 665.9,327.7 662.4,327.7 662.4,315.6 651.4,315.6 651.4,303.5 650.9,303.5 650.9,315.6 649.9,315.6 649.9,303.5 649.4,303.5 649.4,315.6 648.6,315.6" fill="#000"/>
<line x1="654.0" y1="197.4" x2="654.0" y2="230.0" stroke="#000" stroke-width="2"/>
<line x1="656.2" y1="197.4" x2="656.2" y2="230.0" stroke="#000" stroke-width="2"/>
<line x1="736.0" y1="197.5" x2="736.0" y2="230.0" stroke="#000" stroke-width="2"/>
<line x1="738.2" y1="197.5" x2="738.2" y2="230.0" stroke="#000" stroke-width="2"/>
<line x1="762.6" y1="134.6" x2="762.6" y2="160.0" stroke="#000" stroke-width="2"/>
<line x1="688.6" y1="400.0" x2="688.6" y2="448.0" stroke="#000" stroke-width="2"/>
<line x1="919.0" y1="480.0" x2="919.0" y2="536.3" stroke="#000" stroke-width="2"/>
<line x1="1165.2" y1="373.3" x2="1165.2" y2="420.0" stroke="#000" stroke-width="2"/>
<line x1="1275.8" y1="600.0" x2="1275.8" y2="648.9" stroke="#000" stroke-width="2"/>
<line x1="1406.4" y1="650.0" x2="1406.4" y2="700.0" stroke="#000" stroke-width="2"/>
<line x1="1450.2" y1="500.0" x2="1450.2" y2="586.7" stroke="#000" stroke-width="2"/>
<line x1="1540.5" y1="260.0" x2="1540.5" y2="299.3" stroke="#000" stroke-width="2"/>
<line x1="1485.2" y1="240.0" x2="1485.2" y2="282.0" stroke="#000" stroke-width="2"/>
<line x1="1088.0" y1="270.0" x2="1088.0" y2="300.0" stroke="#000" stroke-width="2"/>
<line x1="1037.5" y1="232.0" x2="1037.5" y2="260.0" stroke="#000" stroke-width="2"/>
<line x1="1040.5" y1="232.0" x2="1040.5" y2="260.0" stroke="#000" stroke-width="2"/>
<line x1="1221.7" y1="352.0" x2="1221.7" y2="380.0" stroke="#000" stroke-width="2"/>
<line x1="847.4" y1="255.0" x2="847.4" y2="280.0" stroke="#000" stroke-width="2"/>
<line x1="1294.4" y1="330.0" x2="1294.4" y2="360.0" stroke="#000" stroke-width="2"/>
<line x1="909.0" y1="480.0" x2="909.0" y2="498.0" stroke="#000" stroke-width="2"/>
<line x1="1330.0" y1="500.0" x2="1330.0" y2="525.0" stroke="#000" stroke-width="2"/>
<line x1="1380.0" y1="560.0" x2="1380.0" y2="592.0" stroke="#000" stroke-width="2"/>
<line x1="684.6" y1="411.6" x2="684.6" y2="424.8" stroke="#000" stroke-width="1.6"/>
<line x1="717.6" y1="279.2" x2="717.6" y2="292.3" stroke="#000" stroke-width="1.6"/>
<line x1="719.6" y1="279.2" x2="719.6" y2="292.3" stroke="#000" stroke-width="1.6"/>
<line x1="734.6" y1="194.3" x2="734.6" y2="207.4" stroke="#000" stroke-width="1.6"/>
<line x1="749.6" y1="302.5" x2="749.6" y2="315.6" stroke="#000" stroke-width="1.6"/>
<line x1="781.6" y1="230.7" x2="781.6" y2="243.8" stroke="#000" stroke-width="1.6"/>
<line x1="782.6" y1="242.8" x2="782.6" y2="255.9" stroke="#000" stroke-width="1.6"/>
<line x1="792.6" y1="291.3" x2="792.6" y2="304.5" stroke="#000" stroke-width="1.6"/>
<line x1="793.6" y1="279.2" x2="793.6" y2="292.3" stroke="#000" stroke-width="1.6"/>
<line x1="800.6" y1="242.8" x2="800.6" y2="255.9" stroke="#000" stroke-width="1.6"/>
<line x1="811.6" y1="351.0" x2="811.6" y2="364.1" stroke="#000" stroke-width="1.6"/>
<line x1="812.6" y1="267.1" x2="812.6" y2="280.2" stroke="#000" stroke-width="1.6"/>
<line x1="814.6" y1="375.2" x2="814.6" y2="388.4" stroke="#000" stroke-width="1.6"/>
<line x1="818.6" y1="327.7" x2="818.6" y2="340.9" stroke="#000" stroke-width="1.6"/>
<line x1="824.6" y1="364.1" x2="824.6" y2="377.2" stroke="#000" stroke-width="1.6"/>
<line x1="873.6" y1="279.2" x2="873.6" y2="292.3" stroke="#000" stroke-width="1.6"/>
<line x1="880.6" y1="315.6" x2="880.6" y2="328.7" stroke="#000" stroke-width="1.6"/>
<line x1="881.6" y1="315.6" x2="881.6" y2="328.7" stroke="#000" stroke-width="1.6"/>
<line x1="888.6" y1="352.0" x2="888.6" y2="365.1" stroke="#000" stroke-width="1.6"/>
<line x1="894.6" y1="376.2" x2="894.6" y2="389.4" stroke="#000" stroke-width="1.6"/>
<line x1="899.6" y1="376.2" x2="899.6" y2="389.4" stroke="#000" stroke-width="1.6"/>
<line x1="902.6" y1="376.2" x2="902.6" y2="389.4" stroke="#000" stroke-width="1.6"/>
<line x1="904.6" y1="376.2" x2="904.6" y2="389.4" stroke="#000" stroke-width="1.6"/>
<line x1="908.6" y1="484.4" x2="908.6" y2="497.5" stroke="#000" stroke-width="1.6"/>
<line x1="917.6" y1="520.8" x2="917.6" y2="533.9" stroke="#000" stroke-width="1.6"/>
<line x1="930.6" y1="508.7" x2="930.6" y2="521.8" stroke="#000" stroke-width="1.6"/>
<line x1="936.6" y1="376.2" x2="936.6" y2="389.4" stroke="#000" stroke-width="1.6"/>
<line x1="945.6" y1="303.5" x2="945.6" y2="316.6" stroke="#000" stroke-width="1.6"/>
<line x1="951.6" y1="411.6" x2="951.6" y2="424.8" stroke="#000" stroke-width="1.6"/>
<line x1="956.6" y1="448.0" x2="956.6" y2="461.1" stroke="#000" stroke-width="1.6"/>
<line x1="963.6" y1="460.1" x2="963.6" y2="473.3" stroke="#000" stroke-width="1.6"/>
<line x1="964.6" y1="460.1" x2="964.6" y2="473.3" stroke="#000" stroke-width="1.6"/>
<line x1="968.6" y1="460.1" x2="968.6" y2="473.3" stroke="#000" stroke-width="1.6"/>
<line x1="971.6" y1="352.0" x2="971.6" y2="365.1" stroke="#000" stroke-width="1.6"/>
<line x1="973.6" y1="472.3" x2="973.6" y2="485.4" stroke="#000" stroke-width="1.6"/>
<line x1="977.6" y1="376.2" x2="977.6" y2="389.4" stroke="#000" stroke-width="1.6"/>
<line x1="999.6" y1="411.6" x2="999.6" y2="424.8" stroke="#000" stroke-width="1.6"/>
<line x1="1031.6" y1="230.7" x2="1031.6" y2="243.8" stroke="#000" stroke-width="1.6"/>
<line x1="1033.6" y1="326.7" x2="1033.6" y2="339.9" stroke="#000" stroke-width="1.6"/>
<line x1="1050.6" y1="303.5" x2="1050.6" y2="316.6" stroke="#000" stroke-width="1.6"/>
<line x1="1053.6" y1="315.6" x2="1053.6" y2="328.7" stroke="#000" stroke-width="1.6"/>
<line x1="1055.6" y1="315.6" x2="1055.6" y2="328.7" stroke="#000" stroke-width="1.6"/>
<line x1="1055.6" y1="411.6" x2="1055.6" y2="424.8" stroke="#000" stroke-width="1.6"/>
<line x1="1064.6" y1="327.7" x2="1064.6" y2="340.9" stroke="#000" stroke-width="1.6"/>
<line x1="1066.6" y1="327.7" x2="1066.6" y2="340.9" stroke="#000" stroke-width="1.6"/>
<line x1="1067.6" y1="327.7" x2="1067.6" y2="340.9" stroke="#000" stroke-width="1.6"/>
<line x1="1089.6" y1="279.2" x2="1089.6" y2="292.3" stroke="#000" stroke-width="1.6"/>
<line x1="1097.6" y1="448.0" x2="1097.6" y2="461.1" stroke="#000" stroke-width="1.6"/>
<line x1="1101.6" y1="460.1" x2="1101.6" y2="473.3" stroke="#000" stroke-width="1.6"/>
<line x1="1103.6" y1="339.9" x2="1103.6" y2="353.0" stroke="#000" stroke-width="1.6"/>
<line x1="1127.6" y1="448.0" x2="1127.6" y2="461.1" stroke="#000" stroke-width="1.6"/>
<line x1="1147.6" y1="327.7" x2="1147.6" y2="340.9" stroke="#000" stroke-width="1.6"/>
<line x1="1147.6" y1="460.1" x2="1147.6" y2="473.3" stroke="#000" stroke-width="1.6"/>
<line x1="1166.6" y1="388.4" x2="1166.6" y2="401.5" stroke="#000" stroke-width="1.6"/>
<line x1="1177.6" y1="521.8" x2="1177.6" y2="534.9" stroke="#000" stroke-width="1.6"/>
<line x1="1188.6" y1="581.5" x2="1188.6" y2="594.6" stroke="#000" stroke-width="1.6"/>
<line x1="1218.6" y1="460.1" x2="1218.6" y2="473.3" stroke="#000" stroke-width="1.6"/>
<line x1="1219.6" y1="460.1" x2="1219.6" y2="473.3" stroke="#000" stroke-width="1.6"/>
<line x1="1222.6" y1="448.0" x2="1222.6" y2="461.1" stroke="#000" stroke-width="1.6"/>
<line x1="1236.6" y1="473.3" x2="1236.6" y2="486.4" stroke="#000" stroke-width="1.6"/>
<line x1="1254.6" y1="520.8" x2="1254.6" y2="533.9" stroke="#000" stroke-width="1.6"/>
<line x1="1281.6" y1="593.6" x2="1281.6" y2="606.7" stroke="#000" stroke-width="1.6"/>
<line x1="1291.6" y1="376.2" x2="1291.6" y2="389.4" stroke="#000" stroke-width="1.6"/>
<line x1="1293.6" y1="460.1" x2="1293.6" y2="473.3" stroke="#000" stroke-width="1.6"/>
<line x1="1310.6" y1="449.0" x2="1310.6" y2="462.1" stroke="#000" stroke-width="1.6"/>
<line x1="1334.6" y1="412.6" x2="1334.6" y2="425.8" stroke="#000" stroke-width="1.6"/>
<line x1="1349.6" y1="520.8" x2="1349.6" y2="533.9" stroke="#000" stroke-width="1.6"/>
<line x1="1350.6" y1="424.8" x2="1350.6" y2="437.9" stroke="#000" stroke-width="1.6"/>
<line x1="1374.6" y1="532.9" x2="1374.6" y2="546.1" stroke="#000" stroke-width="1.6"/>
<line x1="1399.6" y1="678.5" x2="1399.6" y2="691.6" stroke="#000" stroke-width="1.6"/>
<line x1="1406.6" y1="690.6" x2="1406.6" y2="703.8" stroke="#000" stroke-width="1.6"/>
<line x1="1413.6" y1="605.7" x2="1413.6" y2="618.8" stroke="#000" stroke-width="1.6"/>
<line x1="1416.6" y1="569.3" x2="1416.6" y2="582.5" stroke="#000" stroke-width="1.6"/>
<line x1="1419.6" y1="545.1" x2="1419.6" y2="558.2" stroke="#000" stroke-width="1.6"/>
<line x1="1429.6" y1="400.5" x2="1429.6" y2="413.6" stroke="#000" stroke-width="1.6"/>
<line x1="1432.6" y1="508.7" x2="1432.6" y2="521.8" stroke="#000" stroke-width="1.6"/>
<line x1="1435.6" y1="400.5" x2="1435.6" y2="413.6" stroke="#000" stroke-width="1.6"/>
<line x1="1441.6" y1="508.7" x2="1441.6" y2="521.8" stroke="#000" stroke-width="1.6"/>
<line x1="1446.6" y1="412.6" x2="1446.6" y2="425.8" stroke="#000" stroke-width="1.6"/>
<line x1="1457.6" y1="375.2" x2="1457.6" y2="388.4" stroke="#000" stroke-width="1.6"/>
<line x1="1464.6" y1="267.1" x2="1464.6" y2="280.2" stroke="#000" stroke-width="1.6"/>
<line x1="1467.6" y1="254.9" x2="1467.6" y2="268.1" stroke="#000" stroke-width="1.6"/>
<line x1="1469.6" y1="242.8" x2="1469.6" y2="255.9" stroke="#000" stroke-width="1.6"/>
<line x1="1469.6" y1="351.0" x2="1469.6" y2="364.1" stroke="#000" stroke-width="1.6"/>
<line x1="1489.6" y1="109.4" x2="1489.6" y2="122.5" stroke="#000" stroke-width="1.6"/>
<line x1="1528.6" y1="229.7" x2="1528.6" y2="242.8" stroke="#000" stroke-width="1.6"/>
<line x1="1534.6" y1="253.9" x2="1534.6" y2="267.1" stroke="#000" stroke-width="1.6"/>
<polygon points="648.5,392.6 651.2,392.6 651.2,398.4 653.6,398.4 653.6,392.6 656.8,392.6 656.8,397.0 660.0,397.0 660.0,395.5 661.9,395.5 661.9,395.5 664.1,395.5 664.1,394.1 668.0,394.1 668.0,394.1 670.0,394.1 670.0,392.6 673.3,392.6 673.3,397.0 676.4,397.0 676.4,397.0 680.2,397.0 680.2,395.5 681.7,395.5 681.7,395.5 684.0,395.5 684.0,394.1 685.9,394.1 685.9,398.4 690.3,398.4 690.3,397.0 692.1,397.0 692.1,394.1 693.8,394.1 693.8,398.4 698.2,398.4 698.2,397.0 701.1,397.0 701.1,397.0 703.8,397.0 703.8,394.1 706.2,394.1 706.2,397.0 708.2,397.0 708.2,398.4 711.3,398.4 711.3,397.0 713.3,397.0 713.3,397.0 717.6,397.0 717.6,394.1 719.5,394.1 719.5,394.1 721.2,394.1 721.2,394.1 725.0,394.1 725.0,392.6 727.8,392.6 727.8,392.6 731.4,392.6 731.4,395.5 735.3,395.5 735.3,397.0 737.3,397.0 737.3,395.5 739.9,395.5 739.9,394.1 743.0,394.1 743.0,397.0 745.8,397.0 745.8,397.0 749.9,397.0 749.9,397.0 753.1,397.0 753.1,398.4 755.0,398.4 755.0,398.4 756.7,398.4 756.7,395.5 760.5,395.5 760.5,398.4 764.4,398.4 764.4,397.0 766.4,397.0 766.4,397.0 767.9,397.0 767.9,397.0 769.6,397.0 769.6,395.5 771.2,395.5 771.2,394.1 775.3,394.1 775.3,395.5 779.7,395.5 779.7,398.4 781.7,398.4 781.7,395.5 783.7,395.5 783.7,398.4 788.0,398.4 788.0,394.1 791.2,394.1 791.2,394.1 794.2,394.1 794.2,394.1 796.6,394.1 796.6,392.6 798.7,392.6 798.7,392.6 802.5,392.6 802.5,394.1 805.7,394.1 805.7,395.5 809.2,395.5 809.2,397.0 812.1,397.0 812.1,398.4 815.3,398.4 815.3,398.4 818.6,398.4 818.6,397.0 822.7,397.0 822.7,395.5 825.1,395.5 825.1,397.0 826.9,397.0 826.9,397.0 830.3,397.0 830.3,394.1 832.1,394.1 832.1,397.0 835.5,397.0 835.5,392.6 837.2,392.6 837.2,394.1 839.7,394.1 839.7,392.6 841.4,392.6 841.4,392.6 843.5,392.6 843.5,392.6 845.4,392.6 845.4,397.0 848.0,397.0 848.0,395.5 851.5,395.5 851.5,394.1 854.4,394.1 854.4,394.1 856.1,394.1 856.1,397.0 860.4,397.0 860.4,395.5 863.6,395.5 863.6,397.0 867.3,397.0 867.3,397.0 869.6,397.0 869.6,394.1 873.0,394.1 873.0,394.1 875.4,394.1 875.4,398.4 878.5,398.4 878.5,394.1 882.4,394.1 882.4,394.1 884.3,394.1 884.3,394.1 886.2,394.1 886.2,394.1 889.9,394.1 889.9,394.1 893.1,394.1 893.1,395.5 897.6,395.5 897.6,397.0 899.5,397.0 899.5,395.5 901.9,395.5 901.9,395.5 904.2,395.5 904.2,394.1 906.7,394.1 906.7,398.4 908.6,398.4 908.6,394.1 910.8,394.1 910.8,392.6 913.5,392.6 913.5,395.5 915.7,395.5 915.7,395.5 918.9,395.5 918.9,397.0 921.5,397.0 921.5,394.1 925.3,394.1 925.3,397.0 927.5,397.0 927.5,397.0 930.2,397.0 930.2,395.5 931.8,395.5 931.8,394.1 934.3,394.1 934.3,394.1 938.4,394.1 938.4,397.0 942.3,397.0 942.3,392.6 946.7,392.6 946.7,392.6 948.6,392.6 948.6,398.4 951.1,398.4 951.1,394.1 954.5,394.1 954.5,397.0 956.3,397.0 956.3,392.6 959.7,392.6 959.7,394.1 963.0,394.1 963.0,392.6 965.4,392.6 965.4,395.5 969.8,395.5 969.8,394.1 973.2,394.1 973.2,397.0 975.8,397.0 975.8,398.4 979.5,398.4 979.5,394.1 981.8,394.1 981.8,394.1 984.5,394.1 984.5,394.1 988.5,394.1 988.5,395.5 991.1,395.5 991.1,394.1 994.3,394.1 994.3,397.0 995.8,397.0 995.8,397.0 997.6,397.0 997.6,394.1 999.9,394.1 999.9,398.4 1003.0,398.4 1003.0,395.5 1005.6,395.5 1005.6,392.6 1008.4,392.6 1008.4,398.4 1010.7,398.4 1010.7,394.1 1015.1,394.1 1015.1,392.6 1019.3,392.6 1019.3,392.6 1023.0,392.6 1023.0,395.5 1025.8,395.5 1025.8,398.4 1028.6,398.4 1028.6,392.6 1031.1,392.6 1031.1,397.0 1032.9,397.0 1032.9,392.6 1034.8,392.6 1034.8,398.4 1036.9,398.4 1036.9,394.1 1039.8,394.1 1039.8,395.5 1043.2,395.5 1043.2,398.4 1046.4,398.4 1046.4,395.5 1050.0,395.5 1050.0,395.5 1054.5,395.5 1054.5,397.0 1057.3,397.0 1057.3,397.0 1061.7,397.0 1061.7,395.5 1064.3,395.5 1064.3,394.1 1065.8,394.1 1065.8,395.5 1069.7,395.5 1069.7,397.0 1073.7,397.0 1073.7,397.0 1076.9,397.0 1076.9,397.0 1079.9,397.0 1079.9,394.1 1082.9,394.1 1082.9,392.6 1086.7,392.6 1086.7,398.4 1091.1,398.4 1091.1,395.5 1095.1,395.5 1095.1,395.5 1098.0,395.5 1098.0,394.1 1100.8,394.1 1100.8,398.4 1104.7,398.4 1104.7,397.0 1107.7,397.0 1107.7,397.0 1110.1,397.0 1110.1,397.0 1114.5,397.0 1114.5,397.0 1118.9,397.0 1118.9,395.5 1122.5,395.5 1122.5,394.1 1124.2,394.1 1124.2,394.1 1128.2,394.1 1128.2,394.1 1131.7,394.1 1131.7,398.4 1135.5,398.4 1135.5,392.6 1138.8,392.6 1138.8,395.5 1142.6,395.5 1142.6,394.1 1146.7,394.1 1146.7,398.4 1149.0,398.4 1149.0,398.4 1153.0,398.4 1153.0,397.0 1156.1,397.0 1156.1,397.0 1160.4,397.0 1160.4,394.1 1162.1,394.1 1162.1,392.6 1163.6,392.6 1163.6,395.5 1165.2,395.5 1165.2,397.0 1168.6,397.0 1168.6,394.1 1171.3,394.1 1171.3,398.4 1175.5,398.4 1175.5,392.6 1180.0,392.6 1180.0,397.0 1183.2,397.0 1183.2,394.1 1186.3,394.1 1186.3,395.5 1190.6,395.5 1190.6,394.1 1192.2,394.1 1192.2,394.1 1195.9,394.1 1195.9,394.1 1199.7,394.1 1199.7,394.1 1202.5,394.1 1202.5,398.4 1204.4,398.4 1204.4,397.0 1206.9,397.0 1206.9,394.1 1211.1,394.1 1211.1,395.5 1212.6,395.5 1212.6,397.0 1214.8,397.0 1214.8,397.0 1216.8,397.0 1216.8,394.1 1218.4,394.1 1218.4,397.0 1220.5,397.0 1220.5,397.0 1223.8,397.0 1223.8,394.1 1225.5,394.1 1225.5,395.5 1229.7,395.5 1229.7,395.5 1233.5,395.5 1233.5,398.4 1235.6,398.4 1235.6,394.1 1237.9,394.1 1237.9,392.6 1241.3,392.6 1241.3,397.0 1245.1,397.0 1245.1,395.5 1247.8,395.5 1247.8,392.6 1250.7,392.6 1250.7,394.1 1252.5,394.1 1252.5,394.1 1254.0,394.1 1254.0,397.0 1256.6,397.0 1256.6,394.1 1259.6,394.1 1259.6,397.0 1263.4,397.0 1263.4,397.0 1266.9,397.0 1266.9,397.0 1269.2,397.0 1269.2,394.1 1272.4,394.1 1272.4,397.0 1276.0,397.0 1276.0,395.5 1279.2,395.5 1279.2,397.0 1283.0,397.0 1283.0,392.6 1286.2,392.6 1286.2,398.4 1288.4,398.4 1288.4,397.0 1291.1,397.0 1291.1,395.5 1293.0,395.5 1293.0,397.0 1296.4,397.0 1296.4,395.5 1300.8,395.5 1300.8,394.1 1303.2,394.1 1303.2,395.5 1305.7,395.5 1305.7,395.5 1310.1,395.5 1310.1,397.0 1313.6,397.0 1313.6,394.1 1315.2,394.1 1315.2,392.6 1318.3,392.6 1318.3,397.0 1320.2,397.0 1320.2,394.1 1323.8,394.1 1323.8,397.0 1325.6,397.0 1325.6,394.1 1328.5,394.1 1328.5,397.0 1332.2,397.0 1332.2,392.6 1336.7,392.6 1336.7,395.5 1340.5,395.5 1340.5,395.5 1342.7,395.5 1342.7,392.6 1344.3,392.6 1344.3,397.0 1346.1,397.0 1346.1,394.1 1349.7,394.1 1349.7,397.0 1352.2,397.0 1352.2,394.1 1354.8,394.1 1354.8,395.5 1359.2,395.5 1359.2,395.5 1362.3,395.5 1362.3,395.5 1363.9,395.5 1363.9,397.0 1367.8,397.0 1367.8,394.1 1371.9,394.1 1371.9,394.1 1374.9,394.1 1374.9,392.6 1376.9,392.6 1376.9,394.1 1379.0,394.1 1379.0,395.5 1381.8,395.5 1381.8,397.0 1385.6,397.0 1385.6,397.0 1388.7,397.0 1388.7,394.1 1391.7,394.1 1391.7,397.0 1394.7,397.0 1394.7,397.0 1399.0,397.0 1399.0,397.0 1400.7,397.0 1400.7,395.5 1402.5,395.5 1402.5,397.0 1406.5,397.0 1406.5,395.5 1408.4,395.5 1408.4,397.0 1410.5,397.0 1410.5,397.0 1414.1,397.0 1414.1,395.5 1416.7,395.5 1416.7,398.4 1418.8,398.4 1418.8,392.6 1423.1,392.6 1423.1,397.0 1426.3,397.0 1426.3,392.6 1428.5,392.6 1428.5,397.0 1430.0,397.0 1430.0,395.5 1431.6,395.5 1431.6,392.6 1435.5,392.6 1435.5,395.5 1439.1,395.5 1439.1,395.5 1441.7,395.5 1441.7,397.0 1444.3,397.0 1444.3,395.5 1447.8,395.5 1447.8,395.5 1449.7,395.5 1449.7,398.4 1454.2,398.4 1454.2,394.1 1455.9,394.1 1455.9,395.5 1458.8,395.5 1458.8,394.1 1460.6,394.1 1460.6,397.0 1463.7,397.0 1463.7,397.0 1467.4,397.0 1467.4,392.6 1470.9,392.6 1470.9,394.1 1473.0,394.1 1473.0,395.5 1475.3,395.5 1475.3,394.1 1478.0,394.1 1478.0,397.0 1479.5,397.0 1479.5,395.5 1483.9,395.5 1483.9,395.5 1486.2,395.5 1486.2,395.5 1490.5,395.5 1490.5,397.0 1494.1,397.0 1494.1,397.0 1498.5,397.0 1498.5,395.5 1500.3,395.5 1500.3,394.1 1504.6,394.1 1504.6,392.6 1506.2,392.6 1506.2,394.1 1508.0,394.1 1508.0,395.5 1511.8,395.5 1511.8,395.5 1515.5,395.5 1515.5,397.0 1518.0,397.0 1518.0,394.1 1520.0,394.1 1520.0,397.0 1522.8,397.0 1522.8,395.5 1526.6,395.5 1526.6,394.1 1529.9,394.1 1529.9,397.0 1533.2,397.0 1533.2,397.0 1536.0,397.0 1536.0,395.5 1539.0,395.5 1539.0,394.1 1542.3,394.1 1542.3,394.1 1544.5,394.1 1544.5,397.0 1545.8,397.0 1545.8,405.2 1542.9,405.2 1542.9,409.6 1539.8,409.6 1539.8,408.2 1536.6,408.2 1536.6,408.2 1534.3,408.2 1534.3,403.8 1532.0,403.8 1532.0,405.2 1529.2,405.2 1529.2,406.7 1525.7,406.7 1525.7,409.6 1522.5,409.6 1522.5,411.1 1520.9,411.1 1520.9,409.6 1519.2,409.6 1519.2,408.2 1517.1,408.2 1517.1,409.6 1513.5,409.6 1513.5,406.7 1511.9,406.7 1511.9,406.7 1507.7,406.7 1507.7,405.2 1504.5,405.2 1504.5,409.6 1502.8,409.6 1502.8,409.6 1498.5,409.6 1498.5,408.2 1496.5,408.2 1496.5,406.7 1494.5,406.7 1494.5,409.6 1491.5,409.6 1491.5,409.6 1487.1,409.6 1487.1,403.8 1483.1,403.8 1483.1,408.2 1479.0,408.2 1479.0,408.2 1476.9,408.2 1476.9,408.2 1472.6,408.2 1472.6,406.7 1468.6,406.7 1468.6,409.6 1464.2,409.6 1464.2,409.6 1462.3,409.6 1462.3,408.2 1459.3,408.2 1459.3,408.2 1455.7,408.2 1455.7,406.7 1452.5,406.7 1452.5,403.8 1449.1,403.8 1449.1,408.2 1445.5,408.2 1445.5,406.7 1441.9,406.7 1441.9,403.8 1438.7,403.8 1438.7,406.7 1436.4,406.7 1436.4,408.2 1433.3,408.2 1433.3,411.1 1431.1,411.1 1431.1,409.6 1426.9,409.6 1426.9,408.2 1423.3,408.2 1423.3,409.6 1421.0,409.6 1421.0,405.2 1417.4,405.2 1417.4,405.2 1414.5,405.2 1414.5,408.2 1411.6,408.2 1411.6,406.7 1409.9,406.7 1409.9,405.2 1406.2,405.2 1406.2,405.2 1401.8,405.2 1401.8,408.2 1397.4,408.2 1397.4,403.8 1394.0,403.8 1394.0,406.7 1391.7,406.7 1391.7,409.6 1388.9,409.6 1388.9,408.2 1386.6,408.2 1386.6,408.2 1383.9,408.2 1383.9,409.6 1382.2,409.6 1382.2,411.1 1378.7,411.1 1378.7,403.8 1376.5,403.8 1376.5,408.2 1373.6,408.2 1373.6,408.2 1370.5,408.2 1370.5,406.7 1367.9,406.7 1367.9,408.2 1366.4,408.2 1366.4,408.2 1362.3,408.2 1362.3,405.2 1358.1,405.2 1358.1,406.7 1354.7,406.7 1354.7,406.7 1351.4,406.7 1351.4,406.7 1347.9,406.7 1347.9,408.2 1345.4,408.2 1345.4,409.6 1342.3,409.6 1342.3,406.7 1340.8,406.7 1340.8,406.7 1338.9,406.7 1338.9,408.2 1334.5,408.2 1334.5,406.7 1330.1,406.7 1330.1,409.6 1327.2,409.6 1327.2,406.7 1322.9,406.7 1322.9,411.1 1319.2,411.1 1319.2,403.8 1317.3,403.8 1317.3,408.2 1314.6,408.2 1314.6,405.2 1312.0,405.2 1312.0,409.6 1308.5,409.6 1308.5,408.2 1304.6,408.2 1304.6,406.7 1302.4,406.7 1302.4,403.8 1298.0,403.8 1298.0,405.2 1294.4,405.2 1294.4,409.6 1291.9,409.6 1291.9,405.2 1289.1,405.2 1289.1,408.2 1286.0,408.2 1286.0,405.2 1284.4,405.2 1284.4,408.2 1281.2,408.2 1281.2,408.2 1278.8,408.2 1278.8,405.2 1277.2,405.2 1277.2,406.7 1272.8,406.7 1272.8,408.2 1269.0,408.2 1269.0,409.6 1266.8,409.6 1266.8,411.1 1262.8,411.1 1262.8,408.2 1259.2,408.2 1259.2,405.2 1257.0,405.2 1257.0,405.2 1255.0,405.2 1255.0,406.7 1253.4,406.7 1253.4,406.7 1249.5,406.7 1249.5,408.2 1245.4,408.2 1245.4,408.2 1243.6,408.2 1243.6,405.2 1242.0,405.2 1242.0,408.2 1238.7,408.2 1238.7,408.2 1234.4,408.2 1234.4,403.8 1231.5,403.8 1231.5,409.6 1228.2,409.6 1228.2,408.2 1224.7,408.2 1224.7,405.2 1221.2,405.2 1221.2,406.7 1216.9,406.7 1216.9,405.2 1212.6,405.2 1212.6,408.2 1210.1,408.2 1210.1,409.6 1207.7,409.6 1207.7,406.7 1205.5,406.7 1205.5,408.2 1201.9,408.2 1201.9,405.2 1199.7,405.2 1199.7,406.7 1195.2,406.7 1195.2,406.7 1192.6,406.7 1192.6,409.6 1190.7,409.6 1190.7,409.6 1187.8,409.6 1187.8,405.2 1183.4,405.2 1183.4,408.2 1180.2,408.2 1180.2,403.8 1176.4,403.8 1176.4,408.2 1174.3,408.2 1174.3,409.6 1171.9,409.6 1171.9,406.7 1168.1,406.7 1168.1,406.7 1165.9,406.7 1165.9,405.2 1161.9,405.2 1161.9,409.6 1160.0,409.6 1160.0,408.2 1157.0,408.2 1157.0,406.7 1153.6,406.7 1153.6,408.2 1150.9,408.2 1150.9,409.6 1148.8,409.6 1148.8,409.6 1146.8,409.6 1146.8,409.6 1144.8,409.6 1144.8,405.2 1140.4,405.2 1140.4,406.7 1137.2,406.7 1137.2,409.6 1135.3,409.6 1135.3,408.2 1131.5,408.2 1131.5,403.8 1128.1,403.8 1128.1,409.6 1126.6,409.6 1126.6,409.6 1125.0,409.6 1125.0,409.6 1123.5,409.6 1123.5,408.2 1119.5,408.2 1119.5,409.6 1116.1,409.6 1116.1,408.2 1113.1,408.2 1113.1,409.6 1111.1,409.6 1111.1,405.2 1106.7,405.2 1106.7,408.2 1103.3,408.2 1103.3,406.7 1098.8,406.7 1098.8,405.2 1096.0,405.2 1096.0,406.7 1092.8,406.7 1092.8,409.6 1089.6,409.6 1089.6,405.2 1085.3,405.2 1085.3,405.2 1081.3,405.2 1081.3,405.2 1079.2,405.2 1079.2,403.8 1075.1,403.8 1075.1,405.2 1073.4,405.2 1073.4,409.6 1071.6,409.6 1071.6,403.8 1069.0,403.8 1069.0,408.2 1067.0,408.2 1067.0,408.2 1064.5,408.2 1064.5,405.2 1061.8,405.2 1061.8,405.2 1059.1,405.2 1059.1,405.2 1055.5,405.2 1055.5,405.2 1053.2,405.2 1053.2,405.2 1050.9,405.2 1050.9,408.2 1048.7,408.2 1048.7,406.7 1046.7,406.7 1046.7,409.6 1042.3,409.6 1042.3,408.2 1040.2,408.2 1040.2,411.1 1037.7,411.1 1037.7,406.7 1033.3,406.7 1033.3,405.2 1031.3,405.2 1031.3,403.8 1028.4,403.8 1028.4,409.6 1025.5,409.6 1025.5,408.2 1023.5,408.2 1023.5,406.7 1019.2,406.7 1019.2,406.7 1017.5,406.7 1017.5,408.2 1014.2,408.2 1014.2,405.2 1011.2,405.2 1011.2,409.6 1006.9,409.6 1006.9,408.2 1004.3,408.2 1004.3,411.1 1002.1,411.1 1002.1,409.6 1000.1,409.6 1000.1,408.2 996.7,408.2 996.7,405.2 992.7,405.2 992.7,406.7 991.2,406.7 991.2,408.2 988.7,408.2 988.7,408.2 985.1,408.2 985.1,408.2 980.8,408.2 980.8,408.2 978.7,408.2 978.7,403.8 975.5,403.8 975.5,409.6 972.1,409.6 972.1,405.2 968.4,405.2 968.4,405.2 966.7,405.2 966.7,409.6 964.0,409.6 964.0,406.7 959.5,406.7 959.5,406.7 957.6,406.7 957.6,406.7 955.4,406.7 955.4,408.2 951.3,408.2 951.3,405.2 947.9,405.2 947.9,408.2 944.5,408.2 944.5,411.1 942.1,411.1 942.1,409.6 937.6,409.6 937.6,409.6 933.4,409.6 933.4,403.8 929.8,403.8 929.8,408.2 926.4,408.2 926.4,403.8 922.7,403.8 922.7,403.8 919.4,403.8 919.4,409.6 917.8,409.6 917.8,405.2 913.9,405.2 913.9,408.2 910.5,408.2 910.5,405.2 907.9,405.2 907.9,408.2 904.0,408.2 904.0,408.2 901.4,408.2 901.4,408.2 899.7,408.2 899.7,405.2 897.6,405.2 897.6,405.2 894.4,405.2 894.4,403.8 890.2,403.8 890.2,411.1 888.7,411.1 888.7,406.7 885.9,406.7 885.9,403.8 882.5,403.8 882.5,409.6 879.7,409.6 879.7,405.2 876.9,405.2 876.9,409.6 874.3,409.6 874.3,406.7 871.6,406.7 871.6,406.7 868.6,406.7 868.6,409.6 866.0,409.6 866.0,408.2 862.5,408.2 862.5,405.2 860.9,405.2 860.9,405.2 857.9,405.2 857.9,409.6 855.7,409.6 855.7,405.2 851.4,405.2 851.4,409.6 847.3,409.6 847.3,403.8 843.6,403.8 843.6,406.7 841.2,406.7 841.2,403.8 837.3,403.8 837.3,409.6 834.2,409.6 834.2,405.2 830.7,405.2 830.7,403.8 826.6,403.8 826.6,403.8 822.4,403.8 822.4,405.2 819.9,405.2 819.9,408.2 818.2,408.2 818.2,409.6 815.3,409.6 815.3,409.6 810.9,409.6 810.9,405.2 806.7,405.2 806.7,405.2 804.3,405.2 804.3,408.2 801.6,408.2 801.6,405.2 798.1,405.2 798.1,406.7 795.6,406.7 795.6,409.6 792.0,409.6 792.0,405.2 789.9,405.2 789.9,409.6 787.3,409.6 787.3,409.6 785.2,409.6 785.2,409.6 783.4,409.6 783.4,408.2 781.5,408.2 781.5,405.2 778.3,405.2 778.3,408.2 775.2,408.2 775.2,405.2 771.7,405.2 771.7,406.7 768.1,406.7 768.1,408.2 764.8,408.2 764.8,408.2 761.1,408.2 761.1,409.6 759.5,409.6 759.5,405.2 756.2,405.2 756.2,409.6 752.1,409.6 752.1,409.6 747.8,409.6 747.8,411.1 743.7,411.1 743.7,406.7 741.3,406.7 741.3,409.6 738.6,409.6 738.6,409.6 734.8,409.6 734.8,408.2 730.8,408.2 730.8,408.2 727.3,408.2 727.3,409.6 724.1,409.6 724.1,409.6 720.2,409.6 720.2,409.6 716.4,409.6 716.4,405.2 714.1,405.2 714.1,406.7 709.8,406.7 709.8,409.6 706.1,409.6 706.1,408.2 702.8,408.2 702.8,405.2 699.4,405.2 699.4,405.2 696.3,405.2 696.3,406.7 694.5,406.7 694.5,409.6 691.6,409.6 691.6,405.2 688.7,405.2 688.7,406.7 686.7,406.7 686.7,409.6 683.9,409.6 683.9,409.6 679.7,409.6 679.7,408.2 675.6,408.2 675.6,405.2 671.4,405.2 671.4,408.2 669.2,408.2 669.2,406.7 664.8,406.7 664.8,406.7 660.4,406.7 660.4,405.2 658.1,405.2 658.1,406.7 654.6,406.7 654.6,405.2 652.1,405.2 652.1,405.2 648.5,405.2" fill="#ff0000" stroke="#c00000" stroke-width="0.6" stroke-linejoin="miter"/>
<line x1="729.0" y1="378.0" x2="729.0" y2="395.0" stroke="#ff0000" stroke-width="1.6"/>
<line x1="730.5" y1="382.0" x2="730.5" y2="395.0" stroke="#ff0000" stroke-width="1.6"/>
<line x1="744.5" y1="385.0" x2="744.5" y2="395.0" stroke="#ff0000" stroke-width="1.6"/>
<line x1="751.0" y1="388.0" x2="751.0" y2="395.0" stroke="#ff0000" stroke-width="1.6"/>
<line x1="763.0" y1="388.0" x2="763.0" y2="395.0" stroke="#ff0000" stroke-width="1.6"/>
<line x1="768.0" y1="384.0" x2="768.0" y2="395.0" stroke="#ff0000" stroke-width="1.6"/>
<line x1="796.8" y1="378.0" x2="796.8" y2="396.0" stroke="#ff0000" stroke-width="1.6"/>
<line x1="803.0" y1="384.0" x2="803.0" y2="396.0" stroke="#ff0000" stroke-width="1.6"/>
<line x1="947.0" y1="373.7" x2="947.0" y2="395.0" stroke="#ff0000" stroke-width="1.6"/>
<line x1="952.0" y1="382.0" x2="952.0" y2="395.0" stroke="#ff0000" stroke-width="1.6"/>
<line x1="1361.0" y1="371.1" x2="1361.0" y2="395.0" stroke="#ff0000" stroke-width="1.6"/>
<line x1="1369.6" y1="373.6" x2="1369.6" y2="395.0" stroke="#ff0000" stroke-width="1.6"/>
<line x1="1387.8" y1="385.2" x2="1387.8" y2="395.0" stroke="#ff0000" stroke-width="1.6"/>
<line x1="1327.2" y1="407.0" x2="1327.2" y2="419.0" stroke="#ff0000" stroke-width="1.6"/>
<line x1="1364.6" y1="407.0" x2="1364.6" y2="419.5" stroke="#ff0000" stroke-width="1.6"/>
<line x1="748.0" y1="407.0" x2="748.0" y2="417.0" stroke="#ff0000" stroke-width="1.6"/>
<line x1="830.0" y1="407.0" x2="830.0" y2="416.0" stroke="#ff0000" stroke-width="1.6"/>
<line x1="1119.0" y1="407.0" x2="1119.0" y2="417.0" stroke="#ff0000" stroke-width="1.6"/>
<line x1="1245.0" y1="407.0" x2="1245.0" y2="416.0" stroke="#ff0000" stroke-width="1.6"/>
<line x1="1034.0" y1="407.0" x2="1034.0" y2="414.0" stroke="#ff0000" stroke-width="1.6"/>
<line x1="872.0" y1="383.0" x2="872.0" y2="395.0" stroke="#ff0000" stroke-width="1.6"/>
<line x1="1000.0" y1="386.0" x2="1000.0" y2="395.0" stroke="#ff0000" stroke-width="1.6"/>
<line x1="1101.0" y1="385.0" x2="1101.0" y2="395.0" stroke="#ff0000" stroke-width="1.6"/>
<line x1="1183.0" y1="386.0" x2="1183.0" y2="395.0" stroke="#ff0000" stroke-width="1.6"/>
<line x1="1278.0" y1="385.0" x2="1278.0" y2="395.0" stroke="#ff0000" stroke-width="1.6"/>
<line x1="1410.0" y1="386.0" x2="1410.0" y2="395.0" stroke="#ff0000" stroke-width="1.6"/>
<line x1="1190.0" y1="407.0" x2="1190.0" y2="415.0" stroke="#ff0000" stroke-width="1.6"/>
<line x1="1470.0" y1="386.0" x2="1470.0" y2="395.0" stroke="#ff0000" stroke-width="1.6"/>
<line x1="1520.0" y1="407.0" x2="1520.0" y2="414.0" stroke="#ff0000" stroke-width="1.6"/>
<line x1="1969.50" y1="642.90" x2="1984.50" y2="642.90" stroke="#000" stroke-width="3" stroke-linecap="butt"/>
<line x1="1969.50" y1="521.60" x2="1984.50" y2="521.60" stroke="#000" stroke-width="3" stroke-linecap="butt"/>
<line x1="1969.50" y1="400.30" x2="1984.50" y2="400.30" stroke="#000" stroke-width="3" stroke-linecap="butt"/>
<line x1="1969.50" y1="279.00" x2="1984.50" y2="279.00" stroke="#000" stroke-width="3" stroke-linecap="butt"/>
<line x1="1969.50" y1="157.70" x2="1984.50" y2="157.70" stroke="#000" stroke-width="3" stroke-linecap="butt"/>
<line x1="1969.50" y1="703.55" x2="1979.00" y2="703.55" stroke="#000" stroke-width="3" stroke-linecap="butt"/>
<line x1="1969.50" y1="582.25" x2="1979.00" y2="582.25" stroke="#000" stroke-width="3" stroke-linecap="butt"/>
<line x1="1969.50" y1="460.95" x2="1979.00" y2="460.95" stroke="#000" stroke-width="3" stroke-linecap="butt"/>
<line x1="1969.50" y1="339.65" x2="1979.00" y2="339.65" stroke="#000" stroke-width="3" stroke-linecap="butt"/>
<line x1="1969.50" y1="218.35" x2="1979.00" y2="218.35" stroke="#000" stroke-width="3" stroke-linecap="butt"/>
<line x1="1969.50" y1="97.05" x2="1979.00" y2="97.05" stroke="#000" stroke-width="3" stroke-linecap="butt"/>
<line x1="2133.52" y1="764.20" x2="2133.52" y2="749.20" stroke="#000" stroke-width="3" stroke-linecap="butt"/>
<line x1="2297.53" y1="764.20" x2="2297.53" y2="749.20" stroke="#000" stroke-width="3" stroke-linecap="butt"/>
<line x1="2461.55" y1="764.20" x2="2461.55" y2="749.20" stroke="#000" stroke-width="3" stroke-linecap="butt"/>
<line x1="2625.57" y1="764.20" x2="2625.57" y2="749.20" stroke="#000" stroke-width="3" stroke-linecap="butt"/>
<line x1="2789.58" y1="764.20" x2="2789.58" y2="749.20" stroke="#000" stroke-width="3" stroke-linecap="butt"/>
<line x1="2051.51" y1="764.20" x2="2051.51" y2="754.70" stroke="#000" stroke-width="3" stroke-linecap="butt"/>
<line x1="2215.53" y1="764.20" x2="2215.53" y2="754.70" stroke="#000" stroke-width="3" stroke-linecap="butt"/>
<line x1="2379.54" y1="764.20" x2="2379.54" y2="754.70" stroke="#000" stroke-width="3" stroke-linecap="butt"/>
<line x1="2543.56" y1="764.20" x2="2543.56" y2="754.70" stroke="#000" stroke-width="3" stroke-linecap="butt"/>
<line x1="2707.57" y1="764.20" x2="2707.57" y2="754.70" stroke="#000" stroke-width="3" stroke-linecap="butt"/>
<line x1="2871.59" y1="764.20" x2="2871.59" y2="754.70" stroke="#000" stroke-width="3" stroke-linecap="butt"/>
<text transform="translate(1921.56,780.12) scale(1.1350,1)" font-size="48.90">0</text>
<text transform="translate(1810.56,658.50) scale(1.1350,1)" font-size="48.90">50000</text>
<text transform="translate(1782.81,536.89) scale(1.1350,1)" font-size="48.90">100000</text>
<text transform="translate(1782.81,415.27) scale(1.1350,1)" font-size="48.90">150000</text>
<text transform="translate(1782.81,293.65) scale(1.1350,1)" font-size="48.90">200000</text>
<text transform="translate(1782.81,172.04) scale(1.1350,1)" font-size="48.90">250000</text>
<text transform="translate(1782.81,50.42) scale(1.1350,1)" font-size="48.90">300000</text>
<rect x="1904.08" y="805.75" width="32.50" height="2.30" fill="#000" />
<text transform="translate(1944.96,819.62) scale(1.1350,1)" font-size="48.90">0.15</text>
<rect x="2068.07" y="805.75" width="32.50" height="2.30" fill="#000" />
<text transform="translate(2108.95,819.62) scale(1.1350,1)" font-size="48.90">0.10</text>
<rect x="2232.11" y="805.75" width="32.50" height="2.30" fill="#000" />
<text transform="translate(2273.00,819.62) scale(1.1350,1)" font-size="48.90">0.05</text>
<text transform="translate(2447.67,819.62) scale(1.1350,1)" font-size="48.90">0</text>
<text transform="translate(2576.13,819.62) scale(1.1350,1)" font-size="48.90">0.05</text>
<text transform="translate(2740.12,819.62) scale(1.1350,1)" font-size="48.90">0.10</text>
<text transform="translate(2904.16,819.62) scale(1.1350,1)" font-size="48.90">0.15</text>
<text transform="translate(2263.08,892.10) scale(1.1865,1)" font-size="50.20" fill="#000">Polarization</text>
<line x1="2576.80" y1="857.50" x2="2558.30" y2="902.00" stroke="#000" stroke-width="2.8" stroke-linecap="round"/>
<text transform="translate(2582.99,892.13) scale(1.2561,1)" font-size="48.04" fill="#000">rad</text>
<text transform="translate(1752.50,474.25) rotate(-90) scale(1.1743,1)" font-size="50.80">Count</text>
<text transform="translate(2003.54,101.78) scale(1.0958,1)" font-size="53.16" fill="#000">(b)</text>
<rect x="2139.50" y="761.60" width="54.30" height="2.60" fill="#000" />
<rect x="2205.34" y="701.30" width="54.30" height="62.90" fill="#000" />
<rect x="2271.18" y="595.40" width="54.30" height="168.80" fill="#000" />
<rect x="2337.02" y="445.90" width="54.30" height="318.30" fill="#000" />
<rect x="2402.86" y="146.60" width="54.30" height="617.60" fill="#000" />
<rect x="2468.70" y="295.10" width="54.30" height="469.10" fill="#000" />
<rect x="2534.54" y="294.70" width="54.30" height="469.50" fill="#000" />
<rect x="2600.38" y="567.50" width="54.30" height="196.70" fill="#000" />
<rect x="2666.22" y="647.50" width="54.30" height="116.70" fill="#000" />
<rect x="2732.06" y="757.00" width="54.30" height="7.20" fill="#000" />
<polyline points="2124.0,763.4 2126.0,763.4 2128.0,763.4 2130.0,763.4 2132.0,763.4 2134.0,763.4 2136.0,763.1 2138.0,762.7 2140.0,762.3 2142.0,761.8 2144.0,761.4 2146.0,760.9 2148.0,760.4 2150.0,759.9 2152.0,759.4 2154.0,758.8 2156.0,758.2 2158.0,757.6 2160.0,756.9 2162.0,756.3 2164.0,755.6 2166.0,754.8 2168.0,754.1 2170.0,753.3 2172.0,752.5 2174.0,751.6 2176.0,750.7 2178.0,749.8 2180.0,748.9 2182.0,747.9 2184.0,746.8 2186.0,745.8 2188.0,744.6 2190.0,743.5 2192.0,742.3 2194.0,741.1 2196.0,739.8 2198.0,738.4 2200.0,737.1 2202.0,735.6 2204.0,734.1 2206.0,732.6 2208.0,731.0 2210.0,729.4 2212.0,727.7 2214.0,726.0 2216.0,724.2 2218.0,722.3 2220.0,720.4 2222.0,718.4 2224.0,716.4 2226.0,714.3 2228.0,712.1 2230.0,709.9 2232.0,707.6 2234.0,705.3 2236.0,702.8 2238.0,700.3 2240.0,697.8 2242.0,695.1 2244.0,692.4 2246.0,689.7 2248.0,686.8 2250.0,683.9 2252.0,680.9 2254.0,677.8 2256.0,674.7 2258.0,671.4 2260.0,668.1 2262.0,664.8 2264.0,661.3 2266.0,657.8 2268.0,654.2 2270.0,650.5 2272.0,646.7 2274.0,642.8 2276.0,638.9 2278.0,634.9 2280.0,630.8 2282.0,626.6 2284.0,622.4 2286.0,618.1 2288.0,613.7 2290.0,609.2 2292.0,604.6 2294.0,600.0 2296.0,595.3 2298.0,590.5 2300.0,585.7 2302.0,580.7 2304.0,575.7 2306.0,570.7 2308.0,565.5 2310.0,560.3 2312.0,555.1 2314.0,549.7 2316.0,544.3 2318.0,538.9 2320.0,533.4 2322.0,527.8 2324.0,522.2 2326.0,516.5 2328.0,510.7 2330.0,505.0 2332.0,499.1 2334.0,493.3 2336.0,487.4 2338.0,481.4 2340.0,475.5 2342.0,469.5 2344.0,463.4 2346.0,457.4 2348.0,451.3 2350.0,445.2 2352.0,439.1 2354.0,433.0 2356.0,426.8 2358.0,420.7 2360.0,414.6 2362.0,408.4 2364.0,402.3 2366.0,396.2 2368.0,390.1 2370.0,384.0 2372.0,378.0 2374.0,372.0 2376.0,366.0 2378.0,360.0 2380.0,354.1 2382.0,348.3 2384.0,342.4 2386.0,336.7 2388.0,331.0 2390.0,325.3 2392.0,319.7 2394.0,314.2 2396.0,308.8 2398.0,303.4 2400.0,298.2 2402.0,293.0 2404.0,287.9 2406.0,282.9 2408.0,278.0 2410.0,273.2 2412.0,268.5 2414.0,263.9 2416.0,259.5 2418.0,255.1 2420.0,250.9 2422.0,246.8 2424.0,242.9 2426.0,239.1 2428.0,235.4 2430.0,231.8 2432.0,228.4 2434.0,225.1 2436.0,222.0 2438.0,219.1 2440.0,216.3 2442.0,213.6 2444.0,211.1 2446.0,208.8 2448.0,206.7 2450.0,204.7 2452.0,202.8 2454.0,201.2 2456.0,199.7 2458.0,198.4 2460.0,197.2 2462.0,196.3 2464.0,195.5 2466.0,194.8 2468.0,194.4 2470.0,194.1 2472.0,194.1 2474.0,194.2 2476.0,194.4 2478.0,194.9 2480.0,195.5 2482.0,196.3 2484.0,197.3 2486.0,198.4 2488.0,199.7 2490.0,201.2 2492.0,202.9 2494.0,204.7 2496.0,206.7 2498.0,208.9 2500.0,211.2 2502.0,213.7 2504.0,216.4 2506.0,219.2 2508.0,222.1 2510.0,225.2 2512.0,228.5 2514.0,231.9 2516.0,235.5 2518.0,239.2 2520.0,243.0 2522.0,247.0 2524.0,251.0 2526.0,255.3 2528.0,259.6 2530.0,264.1 2532.0,268.7 2534.0,273.3 2536.0,278.1 2538.0,283.0 2540.0,288.0 2542.0,293.1 2544.0,298.3 2546.0,303.6 2548.0,309.0 2550.0,314.4 2552.0,319.9 2554.0,325.5 2556.0,331.1 2558.0,336.8 2560.0,342.6 2562.0,348.4 2564.0,354.3 2566.0,360.2 2568.0,366.2 2570.0,372.2 2572.0,378.2 2574.0,384.2 2576.0,390.3 2578.0,396.4 2580.0,402.5 2582.0,408.6 2584.0,414.8 2586.0,420.9 2588.0,427.0 2590.0,433.1 2592.0,439.3 2594.0,445.4 2596.0,451.5 2598.0,457.5 2600.0,463.6 2602.0,469.6 2604.0,475.6 2606.0,481.6 2608.0,487.6 2610.0,493.5 2612.0,499.3 2614.0,505.1 2616.0,510.9 2618.0,516.6 2620.0,522.3 2622.0,527.9 2624.0,533.5 2626.0,539.0 2628.0,544.5 2630.0,549.9 2632.0,555.2 2634.0,560.5 2636.0,565.7 2638.0,570.8 2640.0,575.9 2642.0,580.9 2644.0,585.8 2646.0,590.7 2648.0,595.4 2650.0,600.1 2652.0,604.8 2654.0,609.3 2656.0,613.8 2658.0,618.2 2660.0,622.5 2662.0,626.8 2664.0,630.9 2666.0,635.0 2668.0,639.0 2670.0,643.0 2672.0,646.8 2674.0,650.6 2676.0,654.3 2678.0,657.9 2680.0,661.4 2682.0,664.9 2684.0,668.2 2686.0,671.5 2688.0,674.8 2690.0,677.9 2692.0,681.0 2694.0,684.0 2696.0,686.9 2698.0,689.7 2700.0,692.5 2702.0,695.2 2704.0,697.8 2706.0,700.4 2708.0,702.9 2710.0,705.3 2712.0,707.7 2714.0,710.0 2716.0,712.2 2718.0,714.4 2720.0,716.5 2722.0,718.5 2724.0,720.5 2726.0,722.4 2728.0,724.2 2730.0,726.0 2732.0,727.8 2734.0,729.5 2736.0,731.1 2738.0,732.7 2740.0,734.2 2742.0,735.7 2744.0,737.1 2746.0,738.5 2748.0,739.8 2750.0,741.1 2752.0,742.3 2754.0,743.5 2756.0,744.7 2758.0,745.8 2760.0,746.9 2762.0,747.9 2764.0,748.9 2766.0,749.8 2768.0,750.8 2770.0,751.7 2772.0,752.5 2774.0,753.3 2776.0,754.1 2778.0,754.9 2780.0,755.6 2782.0,756.3 2784.0,757.0 2786.0,757.6 2788.0,758.2 2790.0,758.8 2792.0,759.4 2794.0,759.9 2796.0,760.4 2798.0,760.9 2800.0,761.4 2802.0,761.9 2804.0,762.3 2806.0,762.7 2808.0,763.1 2810.0,763.4 2812.0,763.4 2814.0,763.4 2816.0,763.4 2818.0,763.4 2820.0,763.4 2822.0,763.4" fill="none" stroke="#0000ff" stroke-width="5.0" stroke-linejoin="round"/>
<line x1="2253.30" y1="479.60" x2="2306.50" y2="479.60" stroke="#0000ff" stroke-width="4.9" stroke-linecap="round"/>
<polygon points="2306.5,471.3 2336.5,479.6 2306.5,487.9" fill="#0000ff" stroke="#0000ff" stroke-width="2.2" stroke-linejoin="round"/>
<line x1="2677.40" y1="478.80" x2="2639.00" y2="478.80" stroke="#0000ff" stroke-width="4.9" stroke-linecap="round"/>
<polygon points="2639.0,470.5 2609.0,478.8 2639.0,487.1" fill="#0000ff" stroke="#0000ff" stroke-width="2.2" stroke-linejoin="round"/>
<text transform="translate(2691.87,498.73) scale(1.1832,1)" font-size="47.26" fill="#000">0.082</text>
<text transform="translate(2837.19,498.93) scale(1.2504,1)" font-size="48.32" fill="#000">rad</text>
<line x1="604.50" y1="1564.68" x2="619.50" y2="1564.68" stroke="#000" stroke-width="3" stroke-linecap="butt"/>
<line x1="604.50" y1="1419.16" x2="619.50" y2="1419.16" stroke="#000" stroke-width="3" stroke-linecap="butt"/>
<line x1="604.50" y1="1273.64" x2="619.50" y2="1273.64" stroke="#000" stroke-width="3" stroke-linecap="butt"/>
<line x1="604.50" y1="1128.12" x2="619.50" y2="1128.12" stroke="#000" stroke-width="3" stroke-linecap="butt"/>
<line x1="604.50" y1="1637.44" x2="614.00" y2="1637.44" stroke="#000" stroke-width="3" stroke-linecap="butt"/>
<line x1="604.50" y1="1491.92" x2="614.00" y2="1491.92" stroke="#000" stroke-width="3" stroke-linecap="butt"/>
<line x1="604.50" y1="1346.40" x2="614.00" y2="1346.40" stroke="#000" stroke-width="3" stroke-linecap="butt"/>
<line x1="604.50" y1="1200.88" x2="614.00" y2="1200.88" stroke="#000" stroke-width="3" stroke-linecap="butt"/>
<line x1="604.50" y1="1055.36" x2="614.00" y2="1055.36" stroke="#000" stroke-width="3" stroke-linecap="butt"/>
<line x1="768.45" y1="1710.20" x2="768.45" y2="1695.20" stroke="#000" stroke-width="3" stroke-linecap="butt"/>
<line x1="932.40" y1="1710.20" x2="932.40" y2="1695.20" stroke="#000" stroke-width="3" stroke-linecap="butt"/>
<line x1="1096.35" y1="1710.20" x2="1096.35" y2="1695.20" stroke="#000" stroke-width="3" stroke-linecap="butt"/>
<line x1="1260.30" y1="1710.20" x2="1260.30" y2="1695.20" stroke="#000" stroke-width="3" stroke-linecap="butt"/>
<line x1="1424.25" y1="1710.20" x2="1424.25" y2="1695.20" stroke="#000" stroke-width="3" stroke-linecap="butt"/>
<line x1="686.48" y1="1710.20" x2="686.48" y2="1700.70" stroke="#000" stroke-width="3" stroke-linecap="butt"/>
<line x1="850.42" y1="1710.20" x2="850.42" y2="1700.70" stroke="#000" stroke-width="3" stroke-linecap="butt"/>
<line x1="1014.38" y1="1710.20" x2="1014.38" y2="1700.70" stroke="#000" stroke-width="3" stroke-linecap="butt"/>
<line x1="1178.33" y1="1710.20" x2="1178.33" y2="1700.70" stroke="#000" stroke-width="3" stroke-linecap="butt"/>
<line x1="1342.28" y1="1710.20" x2="1342.28" y2="1700.70" stroke="#000" stroke-width="3" stroke-linecap="butt"/>
<line x1="1506.22" y1="1710.20" x2="1506.22" y2="1700.70" stroke="#000" stroke-width="3" stroke-linecap="butt"/>
<text transform="translate(556.36,1725.32) scale(1.1350,1)" font-size="48.90">0</text>
<text transform="translate(417.61,1579.74) scale(1.1350,1)" font-size="48.90">100000</text>
<text transform="translate(417.61,1434.16) scale(1.1350,1)" font-size="48.90">200000</text>
<text transform="translate(417.61,1288.58) scale(1.1350,1)" font-size="48.90">300000</text>
<text transform="translate(417.61,1143.00) scale(1.1350,1)" font-size="48.90">400000</text>
<text transform="translate(417.61,997.42) scale(1.1350,1)" font-size="48.90">500000</text>
<rect x="573.64" y="1752.75" width="32.50" height="2.30" fill="#000" />
<text transform="translate(614.26,1766.62) scale(1.1350,1)" font-size="48.90">6</text>
<rect x="736.55" y="1752.75" width="32.50" height="2.30" fill="#000" />
<text transform="translate(778.47,1766.62) scale(1.1350,1)" font-size="48.90">4</text>
<rect x="902.28" y="1752.75" width="32.50" height="2.30" fill="#000" />
<text transform="translate(942.84,1766.62) scale(1.1350,1)" font-size="48.90">2</text>
<text transform="translate(1082.47,1766.62) scale(1.1350,1)" font-size="48.90">0</text>
<text transform="translate(1246.74,1766.62) scale(1.1350,1)" font-size="48.90">2</text>
<text transform="translate(1410.27,1766.62) scale(1.1350,1)" font-size="48.90">4</text>
<text transform="translate(1573.96,1766.62) scale(1.1350,1)" font-size="48.90">6</text>
<text transform="translate(811.77,1848.30) scale(1.2061,1)" font-size="49.80" fill="#000">Polarization</text>
<line x1="1125.70" y1="1813.20" x2="1107.70" y2="1858.40" stroke="#000" stroke-width="2.8" stroke-linecap="round"/>
<text transform="translate(1133.74,1848.42) scale(0.9790,1)" font-size="52.50" fill="#000">(</text>
<text transform="translate(1152.81,1848.22) scale(1.1103,1)" font-size="49.05" fill="#000">10</text>
<rect x="1214.20" y="1824.35" width="22.80" height="1.90" fill="#000" />
<text transform="translate(1242.49,1834.56) scale(1.0797,1)" font-size="34.98" fill="#000">3</text>
<text transform="translate(1280.98,1848.13) scale(1.2753,1)" font-size="47.75" fill="#000">rad</text>
<text transform="translate(1361.07,1848.42) scale(1.0235,1)" font-size="52.50" fill="#000">)</text>
<text transform="translate(383.50,1419.12) rotate(-90) scale(1.1632,1)" font-size="50.80">Count</text>
<text transform="translate(641.77,1046.71) scale(1.0440,1)" font-size="53.05" fill="#000">(c)</text>
<rect x="977.80" y="1697.60" width="32.2" height="12.60" fill="#ff0000" stroke="#000" stroke-width="2"/>
<rect x="1018.93" y="1607.90" width="32.2" height="102.30" fill="#ff0000" stroke="#000" stroke-width="2"/>
<rect x="1060.06" y="1258.30" width="32.2" height="451.90" fill="#ff0000" stroke="#000" stroke-width="2"/>
<rect x="1101.19" y="1090.40" width="32.2" height="619.80" fill="#ff0000" stroke="#000" stroke-width="2"/>
<rect x="1142.32" y="1479.60" width="32.2" height="230.60" fill="#ff0000" stroke="#000" stroke-width="2"/>
<rect x="1183.45" y="1678.90" width="32.2" height="31.30" fill="#ff0000" stroke="#000" stroke-width="2"/>
<polyline points="623.4,1709.0 629.4,1709.0 635.4,1709.0 641.4,1709.0 647.4,1709.0 653.4,1709.0 659.4,1709.0 665.4,1709.0 671.4,1709.0 677.4,1709.0 683.4,1709.0 689.4,1709.0 695.4,1709.0 701.4,1709.0 707.4,1709.0 713.4,1709.0 719.4,1709.0 725.4,1709.0 731.4,1709.0 737.4,1709.0 743.4,1709.0 749.4,1709.0 755.4,1709.0 761.4,1709.0 767.4,1709.0 773.4,1709.0 779.4,1709.0 785.4,1709.0 791.4,1709.0 797.4,1709.0 803.4,1709.0 809.4,1709.0 815.4,1709.0 821.4,1709.0 827.4,1709.0 833.4,1709.0 839.4,1709.0 845.4,1709.0 851.4,1709.0 857.4,1709.0 863.4,1709.0 869.4,1709.0 875.4,1709.0 881.4,1709.0 887.4,1709.0 893.4,1709.0 899.4,1709.0 905.4,1709.0 911.4,1709.0 917.4,1709.0 923.4,1709.0 929.4,1709.0 935.4,1709.0 941.4,1709.0 947.4,1709.0 953.4,1709.0 959.4,1709.0 960.4,1709.0 961.4,1709.0 962.4,1709.0 963.4,1709.0 964.4,1709.0 965.4,1709.0 966.4,1709.0 967.4,1709.0 968.4,1709.0 969.4,1709.0 970.4,1709.0 971.4,1709.0 972.4,1709.0 973.4,1709.0 974.4,1709.0 975.4,1709.0 976.4,1709.0 977.4,1709.0 978.4,1709.0 979.4,1709.0 980.4,1709.0 981.4,1709.0 982.4,1709.0 983.4,1709.0 984.4,1709.0 985.4,1709.0 986.4,1709.0 987.4,1709.0 988.4,1709.0 989.4,1708.9 990.4,1708.5 991.4,1708.0 992.4,1707.5 993.4,1706.9 994.4,1706.3 995.4,1705.7 996.4,1705.0 997.4,1704.2 998.4,1703.4 999.4,1702.6 1000.4,1701.7 1001.4,1700.7 1002.4,1699.7 1003.4,1698.6 1004.4,1697.4 1005.4,1696.2 1006.4,1694.9 1007.4,1693.5 1008.4,1692.0 1009.4,1690.4 1010.4,1688.7 1011.4,1687.0 1012.4,1685.1 1013.4,1683.1 1014.4,1681.0 1015.4,1678.8 1016.4,1676.5 1017.4,1674.1 1018.4,1671.5 1019.4,1668.8 1020.4,1665.9 1021.4,1663.0 1022.4,1659.8 1023.4,1656.5 1024.4,1653.1 1025.4,1649.5 1026.4,1645.7 1027.4,1641.8 1028.4,1637.7 1029.4,1633.4 1030.4,1628.9 1031.4,1624.3 1032.4,1619.5 1033.4,1614.4 1034.4,1609.2 1035.4,1603.8 1036.4,1598.2 1037.4,1592.4 1038.4,1586.4 1039.4,1580.2 1040.4,1573.8 1041.4,1567.2 1042.4,1560.4 1043.4,1553.3 1044.4,1546.1 1045.4,1538.7 1046.4,1531.1 1047.4,1523.3 1048.4,1515.3 1049.4,1507.1 1050.4,1498.7 1051.4,1490.1 1052.4,1481.4 1053.4,1472.5 1054.4,1463.4 1055.4,1454.1 1056.4,1444.8 1057.4,1435.2 1058.4,1425.6 1059.4,1415.8 1060.4,1405.9 1061.4,1395.9 1062.4,1385.8 1063.4,1375.6 1064.4,1365.3 1065.4,1355.0 1066.4,1344.6 1067.4,1334.3 1068.4,1323.9 1069.4,1313.4 1070.4,1303.1 1071.4,1292.7 1072.4,1282.4 1073.4,1272.1 1074.4,1261.9 1075.4,1251.8 1076.4,1241.8 1077.4,1231.9 1078.4,1222.2 1079.4,1212.6 1080.4,1203.2 1081.4,1194.0 1082.4,1185.0 1083.4,1176.2 1084.4,1167.7 1085.4,1159.4 1086.4,1151.3 1087.4,1143.6 1088.4,1136.2 1089.4,1129.0 1090.4,1122.3 1091.4,1115.8 1092.4,1109.7 1093.4,1104.0 1094.4,1098.6 1095.4,1093.7 1096.4,1089.1 1097.4,1085.0 1098.4,1081.3 1099.4,1077.9 1100.4,1075.1 1101.4,1072.6 1102.4,1070.7 1103.4,1069.1 1104.4,1068.0 1105.4,1067.4 1106.4,1067.2 1107.4,1067.5 1108.4,1068.2 1109.4,1069.4 1110.4,1071.0 1111.4,1073.1 1112.4,1075.6 1113.4,1078.6 1114.4,1082.0 1115.4,1085.8 1116.4,1090.0 1117.4,1094.6 1118.4,1099.7 1119.4,1105.1 1120.4,1110.9 1121.4,1117.1 1122.4,1123.6 1123.4,1130.4 1124.4,1137.6 1125.4,1145.1 1126.4,1152.9 1127.4,1161.0 1128.4,1169.3 1129.4,1177.9 1130.4,1186.8 1131.4,1195.8 1132.4,1205.1 1133.4,1214.5 1134.4,1224.1 1135.4,1233.9 1136.4,1243.8 1137.4,1253.8 1138.4,1263.9 1139.4,1274.1 1140.4,1284.4 1141.4,1294.8 1142.4,1305.1 1143.4,1315.5 1144.4,1325.9 1145.4,1336.3 1146.4,1346.7 1147.4,1357.1 1148.4,1367.4 1149.4,1377.6 1150.4,1387.8 1151.4,1397.9 1152.4,1407.9 1153.4,1417.7 1154.4,1427.5 1155.4,1437.1 1156.4,1446.6 1157.4,1456.0 1158.4,1465.2 1159.4,1474.3 1160.4,1483.1 1161.4,1491.8 1162.4,1500.4 1163.4,1508.7 1164.4,1516.9 1165.4,1524.8 1166.4,1532.6 1167.4,1540.2 1168.4,1547.6 1169.4,1554.8 1170.4,1561.7 1171.4,1568.5 1172.4,1575.1 1173.4,1581.5 1174.4,1587.6 1175.4,1593.6 1176.4,1599.3 1177.4,1604.9 1178.4,1610.3 1179.4,1615.5 1180.4,1620.4 1181.4,1625.2 1182.4,1629.8 1183.4,1634.3 1184.4,1638.5 1185.4,1642.6 1186.4,1646.5 1187.4,1650.2 1188.4,1653.8 1189.4,1657.2 1190.4,1660.5 1191.4,1663.6 1192.4,1666.5 1193.4,1669.3 1194.4,1672.0 1195.4,1674.6 1196.4,1677.0 1197.4,1679.3 1198.4,1681.5 1199.4,1683.5 1200.4,1685.5 1201.4,1687.3 1202.4,1689.1 1203.4,1690.7 1204.4,1692.3 1205.4,1693.8 1206.4,1695.1 1207.4,1696.4 1208.4,1697.7 1209.4,1698.8 1210.4,1699.9 1211.4,1700.9 1212.4,1701.9 1213.4,1702.8 1214.4,1703.6 1215.4,1704.4 1216.4,1705.1 1217.4,1705.8 1218.4,1706.4 1219.4,1707.0 1220.4,1707.6 1221.4,1708.1 1222.4,1708.6 1223.4,1709.0 1224.4,1709.0 1225.4,1709.0 1226.4,1709.0 1227.4,1709.0 1228.4,1709.0 1229.4,1709.0 1230.4,1709.0 1231.4,1709.0 1232.4,1709.0 1233.4,1709.0 1234.4,1709.0 1235.4,1709.0 1236.4,1709.0 1237.4,1709.0 1238.4,1709.0 1239.4,1709.0 1240.4,1709.0 1241.4,1709.0 1242.4,1709.0 1243.4,1709.0 1244.4,1709.0 1245.4,1709.0 1246.4,1709.0 1247.4,1709.0 1248.4,1709.0 1249.4,1709.0 1250.4,1709.0 1251.4,1709.0 1252.4,1709.0 1253.4,1709.0 1254.4,1709.0 1255.4,1709.0 1256.4,1709.0 1262.4,1709.0 1268.4,1709.0 1274.4,1709.0 1280.4,1709.0 1286.4,1709.0 1292.4,1709.0 1298.4,1709.0 1304.4,1709.0 1310.4,1709.0 1316.4,1709.0 1322.4,1709.0 1328.4,1709.0 1334.4,1709.0 1340.4,1709.0 1346.4,1709.0 1352.4,1709.0 1358.4,1709.0 1364.4,1709.0 1370.4,1709.0 1376.4,1709.0 1382.4,1709.0 1388.4,1709.0 1394.4,1709.0 1400.4,1709.0 1406.4,1709.0 1412.4,1709.0 1418.4,1709.0 1424.4,1709.0 1430.4,1709.0 1436.4,1709.0 1442.4,1709.0 1448.4,1709.0 1454.4,1709.0 1460.4,1709.0 1466.4,1709.0 1472.4,1709.0 1478.4,1709.0 1484.4,1709.0 1490.4,1709.0 1496.4,1709.0 1502.4,1709.0 1508.4,1709.0 1514.4,1709.0 1520.4,1709.0 1526.4,1709.0 1532.4,1709.0 1538.4,1709.0 1544.4,1709.0 1550.4,1709.0 1556.4,1709.0 1562.4,1709.0 1568.4,1709.0" fill="none" stroke="#0000ff" stroke-width="5.0" stroke-linejoin="round"/>
<line x1="986.60" y1="1376.30" x2="1029.10" y2="1376.30" stroke="#0000ff" stroke-width="4.9" stroke-linecap="round"/>
<polygon points="1029.1,1368.0 1059.1,1376.3 1029.1,1384.6" fill="#0000ff" stroke="#0000ff" stroke-width="2.2" stroke-linejoin="round"/>
<line x1="1225.80" y1="1377.70" x2="1181.50" y2="1377.70" stroke="#0000ff" stroke-width="4.9" stroke-linecap="round"/>
<polygon points="1181.5,1369.4 1151.5,1377.7 1181.5,1386.0" fill="#0000ff" stroke="#0000ff" stroke-width="2.2" stroke-linejoin="round"/>
<text transform="translate(1239.09,1392.21) scale(1.1386,1)" font-size="48.59" fill="#000">0.0011</text>
<text transform="translate(1412.79,1392.43) scale(1.2434,1)" font-size="48.46" fill="#000">rad</text>
<line x1="1969.30" y1="1541.90" x2="1984.30" y2="1541.90" stroke="#000" stroke-width="3" stroke-linecap="butt"/>
<line x1="1969.30" y1="1373.53" x2="1978.80" y2="1373.53" stroke="#000" stroke-width="3" stroke-linecap="butt"/>
<line x1="1969.30" y1="1275.05" x2="1978.80" y2="1275.05" stroke="#000" stroke-width="3" stroke-linecap="butt"/>
<line x1="1969.30" y1="1205.17" x2="1978.80" y2="1205.17" stroke="#000" stroke-width="3" stroke-linecap="butt"/>
<line x1="1969.30" y1="1150.97" x2="1978.80" y2="1150.97" stroke="#000" stroke-width="3" stroke-linecap="butt"/>
<line x1="1969.30" y1="1106.68" x2="1978.80" y2="1106.68" stroke="#000" stroke-width="3" stroke-linecap="butt"/>
<line x1="1969.30" y1="1069.24" x2="1978.80" y2="1069.24" stroke="#000" stroke-width="3" stroke-linecap="butt"/>
<line x1="1969.30" y1="1036.80" x2="1978.80" y2="1036.80" stroke="#000" stroke-width="3" stroke-linecap="butt"/>
<line x1="1969.30" y1="1008.19" x2="1978.80" y2="1008.19" stroke="#000" stroke-width="3" stroke-linecap="butt"/>
<line x1="1969.30" y1="1710.27" x2="1978.80" y2="1710.27" stroke="#000" stroke-width="3" stroke-linecap="butt"/>
<line x1="1969.30" y1="1665.98" x2="1978.80" y2="1665.98" stroke="#000" stroke-width="3" stroke-linecap="butt"/>
<line x1="1969.30" y1="1628.54" x2="1978.80" y2="1628.54" stroke="#000" stroke-width="3" stroke-linecap="butt"/>
<line x1="1969.30" y1="1596.10" x2="1978.80" y2="1596.10" stroke="#000" stroke-width="3" stroke-linecap="butt"/>
<line x1="1969.30" y1="1567.49" x2="1978.80" y2="1567.49" stroke="#000" stroke-width="3" stroke-linecap="butt"/>
<line x1="2178.86" y1="1710.00" x2="2178.86" y2="1696.00" stroke="#000" stroke-width="3" stroke-linecap="butt"/>
<line x1="2388.41" y1="1710.00" x2="2388.41" y2="1696.00" stroke="#000" stroke-width="3" stroke-linecap="butt"/>
<line x1="2597.97" y1="1710.00" x2="2597.97" y2="1696.00" stroke="#000" stroke-width="3" stroke-linecap="butt"/>
<line x1="2807.53" y1="1710.00" x2="2807.53" y2="1696.00" stroke="#000" stroke-width="3" stroke-linecap="butt"/>
<line x1="2032.38" y1="1710.00" x2="2032.38" y2="1701.70" stroke="#000" stroke-width="3" stroke-linecap="butt"/>
<line x1="2069.28" y1="1710.00" x2="2069.28" y2="1701.70" stroke="#000" stroke-width="3" stroke-linecap="butt"/>
<line x1="2095.47" y1="1710.00" x2="2095.47" y2="1701.70" stroke="#000" stroke-width="3" stroke-linecap="butt"/>
<line x1="2115.77" y1="1710.00" x2="2115.77" y2="1701.70" stroke="#000" stroke-width="3" stroke-linecap="butt"/>
<line x1="2132.37" y1="1710.00" x2="2132.37" y2="1701.70" stroke="#000" stroke-width="3" stroke-linecap="butt"/>
<line x1="2146.40" y1="1710.00" x2="2146.40" y2="1701.70" stroke="#000" stroke-width="3" stroke-linecap="butt"/>
<line x1="2158.55" y1="1710.00" x2="2158.55" y2="1701.70" stroke="#000" stroke-width="3" stroke-linecap="butt"/>
<line x1="2169.27" y1="1710.00" x2="2169.27" y2="1701.70" stroke="#000" stroke-width="3" stroke-linecap="butt"/>
<line x1="2241.94" y1="1710.00" x2="2241.94" y2="1701.70" stroke="#000" stroke-width="3" stroke-linecap="butt"/>
<line x1="2278.84" y1="1710.00" x2="2278.84" y2="1701.70" stroke="#000" stroke-width="3" stroke-linecap="butt"/>
<line x1="2305.02" y1="1710.00" x2="2305.02" y2="1701.70" stroke="#000" stroke-width="3" stroke-linecap="butt"/>
<line x1="2325.33" y1="1710.00" x2="2325.33" y2="1701.70" stroke="#000" stroke-width="3" stroke-linecap="butt"/>
<line x1="2341.92" y1="1710.00" x2="2341.92" y2="1701.70" stroke="#000" stroke-width="3" stroke-linecap="butt"/>
<line x1="2355.95" y1="1710.00" x2="2355.95" y2="1701.70" stroke="#000" stroke-width="3" stroke-linecap="butt"/>
<line x1="2368.10" y1="1710.00" x2="2368.10" y2="1701.70" stroke="#000" stroke-width="3" stroke-linecap="butt"/>
<line x1="2378.82" y1="1710.00" x2="2378.82" y2="1701.70" stroke="#000" stroke-width="3" stroke-linecap="butt"/>
<line x1="2451.50" y1="1710.00" x2="2451.50" y2="1701.70" stroke="#000" stroke-width="3" stroke-linecap="butt"/>
<line x1="2488.40" y1="1710.00" x2="2488.40" y2="1701.70" stroke="#000" stroke-width="3" stroke-linecap="butt"/>
<line x1="2514.58" y1="1710.00" x2="2514.58" y2="1701.70" stroke="#000" stroke-width="3" stroke-linecap="butt"/>
<line x1="2534.89" y1="1710.00" x2="2534.89" y2="1701.70" stroke="#000" stroke-width="3" stroke-linecap="butt"/>
<line x1="2551.48" y1="1710.00" x2="2551.48" y2="1701.70" stroke="#000" stroke-width="3" stroke-linecap="butt"/>
<line x1="2565.51" y1="1710.00" x2="2565.51" y2="1701.70" stroke="#000" stroke-width="3" stroke-linecap="butt"/>
<line x1="2577.66" y1="1710.00" x2="2577.66" y2="1701.70" stroke="#000" stroke-width="3" stroke-linecap="butt"/>
<line x1="2588.38" y1="1710.00" x2="2588.38" y2="1701.70" stroke="#000" stroke-width="3" stroke-linecap="butt"/>
<line x1="2661.05" y1="1710.00" x2="2661.05" y2="1701.70" stroke="#000" stroke-width="3" stroke-linecap="butt"/>
<line x1="2697.95" y1="1710.00" x2="2697.95" y2="1701.70" stroke="#000" stroke-width="3" stroke-linecap="butt"/>
<line x1="2724.14" y1="1710.00" x2="2724.14" y2="1701.70" stroke="#000" stroke-width="3" stroke-linecap="butt"/>
<line x1="2744.44" y1="1710.00" x2="2744.44" y2="1701.70" stroke="#000" stroke-width="3" stroke-linecap="butt"/>
<line x1="2761.04" y1="1710.00" x2="2761.04" y2="1701.70" stroke="#000" stroke-width="3" stroke-linecap="butt"/>
<line x1="2775.07" y1="1710.00" x2="2775.07" y2="1701.70" stroke="#000" stroke-width="3" stroke-linecap="butt"/>
<line x1="2787.22" y1="1710.00" x2="2787.22" y2="1701.70" stroke="#000" stroke-width="3" stroke-linecap="butt"/>
<line x1="2797.94" y1="1710.00" x2="2797.94" y2="1701.70" stroke="#000" stroke-width="3" stroke-linecap="butt"/>
<line x1="2870.61" y1="1710.00" x2="2870.61" y2="1701.70" stroke="#000" stroke-width="3" stroke-linecap="butt"/>
<line x1="2907.51" y1="1710.00" x2="2907.51" y2="1701.70" stroke="#000" stroke-width="3" stroke-linecap="butt"/>
<line x1="2933.69" y1="1710.00" x2="2933.69" y2="1701.70" stroke="#000" stroke-width="3" stroke-linecap="butt"/>
<line x1="2954.00" y1="1710.00" x2="2954.00" y2="1701.70" stroke="#000" stroke-width="3" stroke-linecap="butt"/>
<text transform="translate(1840.04,999.82) scale(1.1430,1)" font-size="49.35" fill="#000">10</text>
<rect x="1902.60" y="974.35" width="22.30" height="1.90" fill="#000" />
<text transform="translate(1930.31,984.66) scale(1.1234,1)" font-size="35.13" fill="#000">3</text>
<text transform="translate(1840.95,1556.32) scale(1.1277,1)" font-size="48.90" fill="#000">10</text>
<rect x="1902.30" y="1532.55" width="22.70" height="1.90" fill="#000" />
<text transform="translate(1931.29,1541.90) scale(1.0433,1)" font-size="34.64" fill="#000">4</text>
<text transform="translate(1914.73,1766.13) scale(1.1393,1)" font-size="48.61" fill="#000">10</text>
<rect x="1976.90" y="1741.55" width="22.30" height="1.90" fill="#000" />
<text transform="translate(2005.03,1751.76) scale(1.1096,1)" font-size="35.13" fill="#000">3</text>
<text transform="translate(2124.53,1766.13) scale(1.1393,1)" font-size="48.61" fill="#000">10</text>
<rect x="2186.50" y="1741.55" width="22.30" height="1.90" fill="#000" />
<text transform="translate(2214.81,1751.80) scale(1.0916,1)" font-size="35.19" fill="#000">2</text>
<text transform="translate(2334.53,1766.13) scale(1.1393,1)" font-size="48.61" fill="#000">10</text>
<rect x="2396.10" y="1741.55" width="23.90" height="1.90" fill="#000" />
<text transform="translate(2424.33,1751.80) scale(1.0543,1)" font-size="35.29" fill="#000">1</text>
<text transform="translate(2560.53,1766.13) scale(1.1393,1)" font-size="48.61" fill="#000">10</text>
<text transform="translate(2617.44,1751.76) scale(1.0997,1)" font-size="34.97" fill="#000">0</text>
<text transform="translate(2770.23,1766.13) scale(1.1393,1)" font-size="48.61" fill="#000">10</text>
<text transform="translate(2826.55,1751.80) scale(1.0462,1)" font-size="35.29" fill="#000">1</text>
<text transform="translate(2375.03,1847.80) scale(1.1838,1)" font-size="49.80" fill="#000">Time</text>
<line x1="2521.70" y1="1813.70" x2="2503.50" y2="1858.30" stroke="#000" stroke-width="2.8" stroke-linecap="round"/>
<text transform="translate(2526.16,1848.15) scale(1.2415,1)" font-size="45.95" fill="#000">s</text>
<text transform="translate(1804.40,1530.86) rotate(-90) scale(1.1568,1)" font-size="49.80">Allan</text>
<text transform="translate(1804.40,1382.98) rotate(-90) scale(1.2114,1)" font-size="49.80">deviation</text>
<text transform="translate(2003.54,1055.63) scale(1.1004,1)" font-size="52.94" fill="#000">(d)</text>
<line x1="2037.98" y1="1254.52" x2="2089.32" y2="1338.88" stroke="#000" stroke-width="1.5" stroke-linecap="butt"/>
<line x1="2103.16" y1="1357.10" x2="2150.44" y2="1407.60" stroke="#000" stroke-width="1.5" stroke-linecap="butt"/>
<line x1="2166.65" y1="1423.90" x2="2213.35" y2="1468.10" stroke="#000" stroke-width="1.5" stroke-linecap="butt"/>
<line x1="2229.63" y1="1484.33" x2="2277.07" y2="1534.17" stroke="#000" stroke-width="1.5" stroke-linecap="butt"/>
<line x1="2292.41" y1="1551.30" x2="2340.29" y2="1608.20" stroke="#000" stroke-width="1.5" stroke-linecap="butt"/>
<line x1="2358.62" y1="1620.62" x2="2399.88" y2="1634.28" stroke="#000" stroke-width="1.5" stroke-linecap="butt"/>
<line x1="2422.17" y1="1636.18" x2="2462.93" y2="1630.02" stroke="#000" stroke-width="1.5" stroke-linecap="butt"/>
<line x1="2485.30" y1="1624.96" x2="2526.60" y2="1612.44" stroke="#000" stroke-width="1.5" stroke-linecap="butt"/>
<line x1="2548.55" y1="1605.59" x2="2589.75" y2="1592.41" stroke="#000" stroke-width="1.5" stroke-linecap="butt"/>
<line x1="2611.76" y1="1585.76" x2="2652.74" y2="1574.14" stroke="#000" stroke-width="1.5" stroke-linecap="butt"/>
<line x1="2675.10" y1="1568.85" x2="2715.60" y2="1561.15" stroke="#000" stroke-width="1.5" stroke-linecap="butt"/>
<line x1="2738.03" y1="1556.12" x2="2778.77" y2="1545.58" stroke="#000" stroke-width="1.5" stroke-linecap="butt"/>
<line x1="2801.32" y1="1541.36" x2="2841.58" y2="1536.64" stroke="#000" stroke-width="1.5" stroke-linecap="butt"/>
<rect x="2024.25" y="1236.95" width="15.50" height="15.50" fill="#000" />
<rect x="2087.55" y="1340.95" width="15.50" height="15.50" fill="#000" />
<rect x="2150.55" y="1408.25" width="15.50" height="15.50" fill="#000" />
<rect x="2213.95" y="1468.25" width="15.50" height="15.50" fill="#000" />
<rect x="2277.25" y="1534.75" width="15.50" height="15.50" fill="#000" />
<rect x="2339.95" y="1609.25" width="15.50" height="15.50" fill="#000" />
<rect x="2403.05" y="1630.15" width="15.50" height="15.50" fill="#000" />
<rect x="2466.55" y="1620.55" width="15.50" height="15.50" fill="#000" />
<rect x="2529.85" y="1601.35" width="15.50" height="15.50" fill="#000" />
<rect x="2592.95" y="1581.15" width="15.50" height="15.50" fill="#000" />
<rect x="2656.05" y="1563.25" width="15.50" height="15.50" fill="#000" />
<rect x="2719.15" y="1551.25" width="15.50" height="15.50" fill="#000" />
<rect x="2782.15" y="1534.95" width="15.50" height="15.50" fill="#000" />
<rect x="2845.25" y="1527.55" width="15.50" height="15.50" fill="#000" />
<rect x="604.50" y="36.50" width="983.90" height="727.90" fill="none" stroke="#000" stroke-width="3.0" stroke-linejoin="miter"/>
<rect x="1969.50" y="36.40" width="984.10" height="727.80" fill="none" stroke="#000" stroke-width="3.0" stroke-linejoin="miter"/>
<rect x="604.50" y="982.60" width="983.70" height="727.60" fill="none" stroke="#000" stroke-width="3.0" stroke-linejoin="miter"/>
<rect x="1969.30" y="982.60" width="984.70" height="727.40" fill="none" stroke="#000" stroke-width="3.0" stroke-linejoin="miter"/>
<line x1="623.40" y1="1708.70" x2="1020.00" y2="1708.70" stroke="#00005c" stroke-width="2.3" stroke-linecap="butt"/>
<line x1="1190.00" y1="1708.70" x2="1568.60" y2="1708.70" stroke="#00005c" stroke-width="2.3" stroke-linecap="butt"/></g>
</svg></body></html>
